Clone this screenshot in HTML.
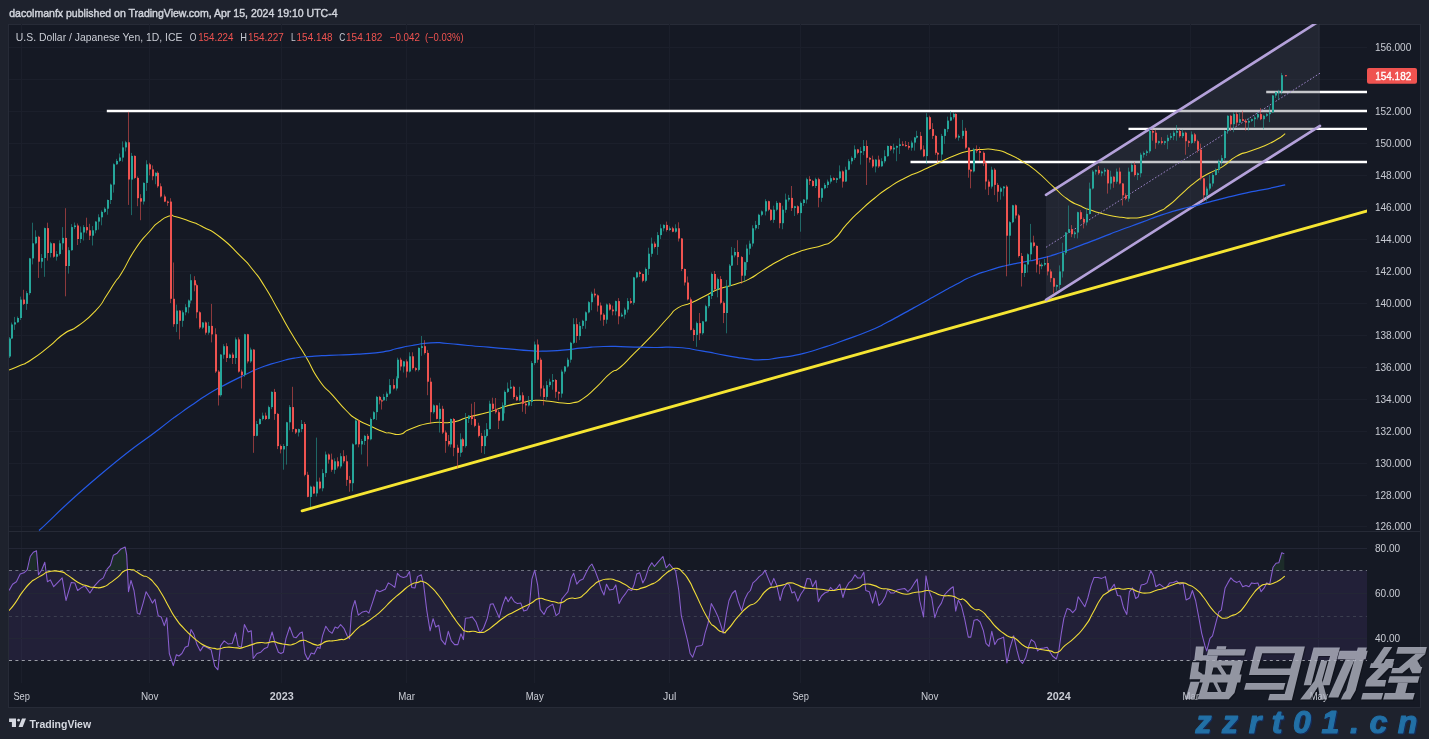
<!DOCTYPE html>
<html><head><meta charset="utf-8"><title>USDJPY</title>
<style>
html,body{margin:0;padding:0;background:#1e222d;}
body{width:1429px;height:739px;overflow:hidden;position:relative;font-family:"Liberation Sans",sans-serif;}
#hdr{position:absolute;left:9px;top:6px;font-size:12px;font-weight:bold;color:#d1d4dc;white-space:nowrap;letter-spacing:-0.1px;}
#ftr{position:absolute;left:30px;top:715px;font-size:12.5px;font-weight:bold;color:#d1d4dc;white-space:nowrap;letter-spacing:-0.3px}
svg{position:absolute;left:0;top:0;will-change:transform;}
text{font-family:"Liberation Sans",sans-serif;}
.ax{font-size:11.5px;fill:#c9ccd4;}
.tl{font-size:11.5px;fill:#c9ccd4;text-anchor:middle;}
</style></head><body>

<svg width="1429" height="739" viewBox="0 0 1429 739">
<defs><clipPath id="cm"><rect x="9" y="24" width="1358" height="507"/></clipPath><clipPath id="cr"><rect x="9" y="531" width="1358" height="152"/></clipPath></defs>
<rect x="8.5" y="24.5" width="1412" height="683" fill="#151924" stroke="#272b37" stroke-width="1"/>
<line x1="21.5" y1="24" x2="21.5" y2="683" stroke="#1b1f2b"/>
<line x1="149.5" y1="24" x2="149.5" y2="683" stroke="#1b1f2b"/>
<line x1="281.5" y1="24" x2="281.5" y2="683" stroke="#1b1f2b"/>
<line x1="406.5" y1="24" x2="406.5" y2="683" stroke="#1b1f2b"/>
<line x1="534.5" y1="24" x2="534.5" y2="683" stroke="#1b1f2b"/>
<line x1="669.5" y1="24" x2="669.5" y2="683" stroke="#1b1f2b"/>
<line x1="800.5" y1="24" x2="800.5" y2="683" stroke="#1b1f2b"/>
<line x1="929.5" y1="24" x2="929.5" y2="683" stroke="#1b1f2b"/>
<line x1="1058.5" y1="24" x2="1058.5" y2="683" stroke="#1b1f2b"/>
<line x1="1190.5" y1="24" x2="1190.5" y2="683" stroke="#1b1f2b"/>
<line x1="1318.5" y1="24" x2="1318.5" y2="683" stroke="#1b1f2b"/>
<line x1="9" y1="526.5" x2="1367" y2="526.5" stroke="#1b1f2b"/>
<line x1="9" y1="495.5" x2="1367" y2="495.5" stroke="#1b1f2b"/>
<line x1="9" y1="463.5" x2="1367" y2="463.5" stroke="#1b1f2b"/>
<line x1="9" y1="431.5" x2="1367" y2="431.5" stroke="#1b1f2b"/>
<line x1="9" y1="399.5" x2="1367" y2="399.5" stroke="#1b1f2b"/>
<line x1="9" y1="367.5" x2="1367" y2="367.5" stroke="#1b1f2b"/>
<line x1="9" y1="335.5" x2="1367" y2="335.5" stroke="#1b1f2b"/>
<line x1="9" y1="303.5" x2="1367" y2="303.5" stroke="#1b1f2b"/>
<line x1="9" y1="271.5" x2="1367" y2="271.5" stroke="#1b1f2b"/>
<line x1="9" y1="239.5" x2="1367" y2="239.5" stroke="#1b1f2b"/>
<line x1="9" y1="207.5" x2="1367" y2="207.5" stroke="#1b1f2b"/>
<line x1="9" y1="175.5" x2="1367" y2="175.5" stroke="#1b1f2b"/>
<line x1="9" y1="143.5" x2="1367" y2="143.5" stroke="#1b1f2b"/>
<line x1="9" y1="111.5" x2="1367" y2="111.5" stroke="#1b1f2b"/>
<line x1="9" y1="79.5" x2="1367" y2="79.5" stroke="#1b1f2b"/>
<line x1="9" y1="47.5" x2="1367" y2="47.5" stroke="#1b1f2b"/>
<line x1="9" y1="531.5" x2="1420" y2="531.5" stroke="#262a36"/>
<rect x="9" y="570.5" width="1358" height="90" fill="#7e57c2" fill-opacity="0.13"/>
<line x1="9" y1="548.5" x2="1367" y2="548.5" stroke="#232635"/>
<line x1="9" y1="593.5" x2="1367" y2="593.5" stroke="#232635"/>
<line x1="9" y1="638.5" x2="1367" y2="638.5" stroke="#232635"/>
<line x1="9" y1="570.5" x2="1367" y2="570.5" stroke="#6f7280" stroke-dasharray="3 3.4"/>
<line x1="9" y1="616.5" x2="1367" y2="616.5" stroke="#3c3f50" stroke-dasharray="3 3.4"/>
<line x1="9" y1="660.5" x2="1367" y2="660.5" stroke="#9a9da6" stroke-dasharray="3 3.4"/>
<g clip-path="url(#cm)">
<line x1="106.8" y1="111.0" x2="1367.4" y2="111.0" stroke="#ffffff" stroke-width="2.3"/>
<line x1="1128.5" y1="128.9" x2="1367.4" y2="128.9" stroke="#ffffff" stroke-width="2.3"/>
<line x1="910.5" y1="162.0" x2="1367.4" y2="162.0" stroke="#ffffff" stroke-width="2.3"/>
<line x1="1266.2" y1="92.0" x2="1367.4" y2="92.0" stroke="#ffffff" stroke-width="2.3"/>
<line x1="302.1" y1="510.8" x2="1372" y2="209.6" stroke="#f6e532" stroke-width="2.9" stroke-linecap="round"/>
<polygon points="1046,194.8 1320,20.6 1320,125.9 1046,299.9" fill="#424652" fill-opacity="0.30"/>
<line x1="1046" y1="247.3" x2="1320" y2="73.2" stroke="#a98fd8" stroke-width="1" stroke-dasharray="1.6 1.8" opacity="0.9"/>
<line x1="1046" y1="194.8" x2="1320" y2="20.6" stroke="#b4a1da" stroke-width="2.6" stroke-linecap="round"/>
<line x1="1046" y1="299.9" x2="1320" y2="125.9" stroke="#b4a1da" stroke-width="2.6" stroke-linecap="round"/>
<path d="M9.0 370.0 C12.7 368.5 12.7 368.8 20.0 365.5 C27.3 362.2 21.6 366.1 31.0 360.0 C40.4 353.9 37.5 355.8 48.3 347.2 C59.1 338.6 53.3 341.4 63.4 334.2 C73.5 327.0 67.8 333.4 78.6 325.5 C89.4 317.6 86.5 320.5 95.9 310.4 C105.3 300.3 100.3 304.6 106.7 295.2 C113.1 285.8 109.9 289.8 115.0 282.3 C120.1 274.8 115.1 283.7 121.9 272.6 C128.7 261.5 126.4 262.5 135.4 249.0 C144.4 235.5 141.1 241.0 149.0 232.0 C156.9 223.0 152.2 227.2 159.0 221.9 C165.8 216.6 163.6 217.8 169.3 216.1 C175.0 214.4 169.2 215.1 176.0 216.8 C182.8 218.5 180.6 217.8 189.6 221.2 C198.6 224.6 192.9 221.7 203.0 227.0 C213.1 232.3 207.7 227.4 220.0 237.0 C232.3 246.6 229.0 244.7 240.0 255.7 C251.0 266.7 244.7 259.6 253.0 270.0 C261.3 280.4 256.5 273.5 265.0 287.0 C273.5 300.5 269.5 294.8 278.5 310.6 C287.5 326.4 283.0 319.1 292.0 334.3 C301.0 349.5 296.6 341.1 305.6 356.3 C314.6 371.5 310.0 367.0 319.0 380.0 C328.0 393.0 323.6 385.1 332.7 395.3 C341.8 405.5 338.3 402.6 346.2 410.5 C354.1 418.4 348.5 413.9 356.4 419.0 C364.3 424.1 360.9 421.4 369.9 425.7 C378.9 430.0 376.7 429.4 383.4 431.8 C390.1 434.2 384.4 432.2 390.0 433.0 C395.6 433.8 393.5 435.5 400.3 434.2 C407.1 432.9 400.3 432.7 410.5 429.0 C420.7 425.3 417.3 425.2 430.8 423.0 C444.3 420.8 438.6 424.2 451.0 422.3 C463.4 420.4 455.6 420.7 468.0 417.3 C480.4 413.9 475.9 415.8 488.3 412.2 C500.7 408.6 494.0 409.6 505.3 406.4 C516.6 403.2 512.1 404.7 522.2 402.7 C532.3 400.7 526.7 400.8 535.7 400.3 C544.7 399.8 540.3 400.4 549.3 401.3 C558.3 402.2 554.9 402.5 562.8 403.0 C570.7 403.5 566.3 404.2 573.0 402.7 C579.7 401.2 575.1 403.9 583.0 398.6 C590.9 393.3 587.6 395.2 596.7 386.8 C605.8 378.4 602.4 379.7 610.2 373.3 C618.0 366.9 612.1 374.1 620.0 367.5 C627.9 360.9 623.6 363.9 633.9 353.6 C644.2 343.3 639.5 348.6 650.8 336.7 C662.1 324.8 658.7 327.6 667.7 318.0 C676.7 308.4 670.0 313.0 677.9 307.9 C685.8 302.8 682.4 306.8 691.4 302.8 C700.4 298.8 696.0 300.5 705.0 296.0 C714.0 291.5 708.4 293.2 718.5 289.3 C728.6 285.4 725.2 287.6 735.4 284.2 C745.6 280.8 740.0 283.6 749.0 279.1 C758.0 274.6 752.4 276.8 762.5 270.6 C772.6 264.4 768.1 266.5 779.4 260.5 C790.7 254.5 786.1 256.7 796.3 252.7 C806.5 248.7 801.3 251.0 809.9 248.6 C818.5 246.2 814.0 248.5 822.0 245.4 C830.0 242.3 825.7 246.5 834.0 239.3 C842.3 232.1 838.1 233.6 847.0 223.9 C855.9 214.2 851.5 218.8 860.6 210.3 C869.7 201.8 865.2 205.8 874.2 198.5 C883.2 191.2 877.6 195.1 887.7 188.3 C897.8 181.5 893.3 184.1 904.6 178.2 C915.9 172.3 910.3 175.8 921.6 170.7 C932.9 165.6 927.2 168.1 938.5 162.9 C949.8 157.7 945.2 159.1 955.4 155.2 C965.6 151.3 960.0 153.0 969.0 151.1 C978.0 149.2 973.5 149.8 982.5 149.4 C991.5 149.0 987.0 148.3 996.0 150.0 C1005.0 151.7 1000.6 150.5 1009.6 154.5 C1018.6 158.5 1014.1 156.3 1023.1 161.9 C1032.1 167.5 1026.6 163.1 1036.7 171.4 C1046.8 179.7 1043.4 177.8 1053.5 186.9 C1063.6 196.0 1058.0 192.3 1067.0 198.7 C1076.0 205.1 1071.6 201.9 1080.6 206.1 C1089.6 210.3 1085.1 208.3 1094.1 211.2 C1103.1 214.1 1098.7 212.9 1107.7 214.9 C1116.7 216.9 1112.8 216.3 1121.2 217.3 C1129.6 218.3 1125.1 218.3 1133.0 218.0 C1140.9 217.7 1136.4 218.4 1144.9 216.3 C1153.4 214.2 1150.5 215.2 1158.4 211.6 C1166.3 208.0 1160.7 211.5 1168.6 205.5 C1176.5 199.5 1173.0 201.5 1182.0 193.6 C1191.0 185.7 1186.6 188.6 1195.6 181.8 C1204.6 175.0 1200.1 178.4 1209.1 173.3 C1218.1 168.2 1213.7 172.2 1222.7 166.6 C1231.7 161.0 1227.2 161.5 1236.2 156.4 C1245.2 151.3 1240.7 154.7 1249.7 151.3 C1258.7 147.9 1254.3 150.2 1263.3 146.3 C1272.3 142.4 1269.5 143.7 1276.8 139.5 C1284.1 135.3 1282.4 135.6 1285.2 133.6" fill="none" stroke="#f0dc38" stroke-width="1.05" stroke-linejoin="round"/>
<path d="M39.0 530.5 C59.3 512.0 59.7 509.0 100.0 475.0 C140.3 441.0 134.3 448.2 160.0 428.4 C185.7 408.6 165.7 423.8 177.0 415.6 C188.3 407.4 182.6 411.4 193.9 403.7 C205.2 396.0 199.5 399.3 210.8 392.5 C222.1 385.7 216.4 389.2 227.7 383.4 C239.0 377.6 233.3 380.4 244.6 375.0 C255.9 369.6 250.3 371.5 261.6 367.2 C272.9 362.9 267.2 365.1 278.5 362.0 C289.8 358.9 284.1 359.9 295.4 358.0 C306.7 356.1 301.0 357.2 312.3 356.3 C323.6 355.4 316.9 355.9 329.3 355.3 C341.7 354.7 336.1 355.3 349.6 354.6 C363.1 353.9 357.5 354.4 369.9 353.3 C382.3 352.2 377.8 352.8 386.8 351.2 C395.8 349.6 388.0 350.5 397.0 348.5 C406.0 346.5 402.6 347.1 413.9 345.2 C425.2 343.3 419.5 343.4 430.8 342.8 C442.1 342.2 435.3 342.6 447.7 343.5 C460.1 344.4 454.5 344.3 468.0 345.5 C481.5 346.7 474.8 346.1 488.3 347.2 C501.8 348.3 495.0 347.8 508.6 348.9 C522.2 350.0 517.7 349.8 529.0 350.6 C540.3 351.4 531.2 351.3 542.5 351.2 C553.8 351.1 549.3 351.3 562.8 350.2 C576.3 349.1 569.5 349.1 583.0 347.9 C596.5 346.7 588.7 346.9 603.4 346.5 C618.1 346.1 610.1 346.5 627.0 346.8 C643.9 347.1 637.2 347.3 654.2 347.5 C671.2 347.7 662.1 346.4 677.9 347.5 C693.7 348.6 685.8 348.3 701.6 350.9 C717.4 353.5 710.6 352.7 725.3 355.3 C740.0 357.9 733.2 357.2 745.6 358.7 C758.0 360.2 751.2 360.1 762.5 359.7 C773.8 359.3 767.0 359.4 779.4 357.6 C791.8 355.8 786.2 357.3 799.7 354.3 C813.2 351.3 806.6 352.7 820.0 348.5 C833.4 344.3 823.1 347.8 840.0 341.7 C856.9 335.6 854.9 336.8 870.8 330.2 C886.7 323.6 876.4 327.8 887.7 322.0 C899.0 316.2 893.3 319.1 904.6 312.9 C915.9 306.7 910.3 309.7 921.6 303.4 C932.9 297.1 927.2 300.2 938.5 294.0 C949.8 287.8 944.1 290.7 955.4 284.8 C966.7 278.9 961.0 281.1 972.3 276.3 C983.6 271.5 978.0 273.9 989.3 270.3 C1000.6 266.7 994.9 268.2 1006.2 265.5 C1017.5 262.8 1011.8 264.4 1023.1 262.1 C1034.4 259.8 1027.6 261.7 1040.0 258.6 C1052.4 255.5 1046.8 257.2 1060.3 252.8 C1073.8 248.4 1067.1 250.5 1080.6 245.4 C1094.1 240.3 1087.4 242.8 1100.9 237.6 C1114.4 232.4 1107.7 234.9 1121.2 229.8 C1134.7 224.7 1128.0 227.4 1141.5 222.4 C1155.0 217.4 1148.3 219.4 1161.8 214.9 C1175.3 210.4 1169.6 212.3 1182.0 208.9 C1194.4 205.5 1186.6 208.0 1199.0 204.8 C1211.4 201.6 1204.6 203.1 1219.3 199.4 C1234.0 195.7 1228.3 196.9 1243.0 193.6 C1257.7 190.3 1249.2 192.5 1263.3 189.6 C1277.4 186.7 1277.9 186.4 1285.2 184.8" fill="none" stroke="#2459e6" stroke-width="1.2" stroke-linejoin="round"/>
<rect x="9" y="337.0" width="1" height="21.0" fill="#26a69a" fill-opacity="0.55"/>
<rect x="9" y="338.5" width="2" height="18.0" fill="#26a69a"/>
<rect x="11" y="322.5" width="1" height="16.5" fill="#26a69a" fill-opacity="0.55"/>
<rect x="11" y="324.5" width="2" height="14.0" fill="#26a69a"/>
<rect x="14" y="316.9" width="1" height="13.0" fill="#26a69a" fill-opacity="0.55"/>
<rect x="14" y="322.3" width="2" height="2.2" fill="#26a69a"/>
<rect x="17" y="316.5" width="1" height="6.3" fill="#26a69a" fill-opacity="0.55"/>
<rect x="17" y="318.0" width="2" height="4.3" fill="#26a69a"/>
<rect x="20" y="296.6" width="1" height="23.4" fill="#26a69a" fill-opacity="0.55"/>
<rect x="20" y="299.6" width="2" height="18.4" fill="#26a69a"/>
<rect x="23" y="289.8" width="1" height="15.2" fill="#ef5350" fill-opacity="0.55"/>
<rect x="23" y="299.6" width="2" height="4.3" fill="#ef5350"/>
<rect x="26" y="291.1" width="1" height="18.8" fill="#26a69a" fill-opacity="0.55"/>
<rect x="26" y="293.1" width="2" height="10.8" fill="#26a69a"/>
<rect x="29" y="257.9" width="1" height="37.2" fill="#26a69a" fill-opacity="0.55"/>
<rect x="29" y="258.4" width="2" height="34.7" fill="#26a69a"/>
<rect x="32" y="222.7" width="1" height="41.7" fill="#26a69a" fill-opacity="0.55"/>
<rect x="32" y="243.3" width="2" height="15.1" fill="#26a69a"/>
<rect x="35" y="230.3" width="1" height="14.0" fill="#26a69a" fill-opacity="0.55"/>
<rect x="35" y="236.8" width="2" height="6.5" fill="#26a69a"/>
<rect x="38" y="235.8" width="1" height="42.1" fill="#ef5350" fill-opacity="0.55"/>
<rect x="38" y="236.8" width="2" height="24.9" fill="#ef5350"/>
<rect x="41" y="254.1" width="1" height="14.1" fill="#26a69a" fill-opacity="0.55"/>
<rect x="41" y="258.0" width="2" height="3.7" fill="#26a69a"/>
<rect x="44" y="227.6" width="1" height="49.2" fill="#26a69a" fill-opacity="0.55"/>
<rect x="44" y="228.1" width="2" height="29.9" fill="#26a69a"/>
<rect x="47" y="222.7" width="1" height="37.9" fill="#ef5350" fill-opacity="0.55"/>
<rect x="47" y="228.1" width="2" height="24.9" fill="#ef5350"/>
<rect x="50" y="241.8" width="1" height="15.6" fill="#26a69a" fill-opacity="0.55"/>
<rect x="50" y="243.3" width="2" height="9.7" fill="#26a69a"/>
<rect x="53" y="243.3" width="1" height="14.4" fill="#ef5350" fill-opacity="0.55"/>
<rect x="53" y="243.3" width="2" height="13.4" fill="#ef5350"/>
<rect x="56" y="251.1" width="1" height="9.5" fill="#26a69a" fill-opacity="0.55"/>
<rect x="56" y="254.1" width="2" height="2.6" fill="#26a69a"/>
<rect x="59" y="240.3" width="1" height="15.3" fill="#26a69a" fill-opacity="0.55"/>
<rect x="59" y="243.3" width="2" height="10.8" fill="#26a69a"/>
<rect x="62" y="227.1" width="1" height="22.7" fill="#26a69a" fill-opacity="0.55"/>
<rect x="62" y="237.9" width="2" height="5.4" fill="#26a69a"/>
<rect x="65" y="208.2" width="1" height="88.1" fill="#ef5350" fill-opacity="0.55"/>
<rect x="65" y="237.9" width="2" height="28.1" fill="#ef5350"/>
<rect x="68" y="247.2" width="1" height="26.4" fill="#26a69a" fill-opacity="0.55"/>
<rect x="68" y="250.2" width="2" height="15.8" fill="#26a69a"/>
<rect x="71" y="224.1" width="1" height="26.6" fill="#26a69a" fill-opacity="0.55"/>
<rect x="71" y="227.1" width="2" height="23.1" fill="#26a69a"/>
<rect x="74" y="222.5" width="1" height="6.6" fill="#26a69a" fill-opacity="0.55"/>
<rect x="74" y="225.5" width="2" height="1.6" fill="#26a69a"/>
<rect x="77" y="223.5" width="1" height="21.5" fill="#ef5350" fill-opacity="0.55"/>
<rect x="77" y="225.5" width="2" height="13.5" fill="#ef5350"/>
<rect x="80" y="226.5" width="1" height="16.5" fill="#26a69a" fill-opacity="0.55"/>
<rect x="80" y="232.5" width="2" height="6.5" fill="#26a69a"/>
<rect x="83" y="225.1" width="1" height="15.4" fill="#26a69a" fill-opacity="0.55"/>
<rect x="83" y="227.1" width="2" height="5.4" fill="#26a69a"/>
<rect x="86" y="217.7" width="1" height="15.6" fill="#ef5350" fill-opacity="0.55"/>
<rect x="86" y="227.1" width="2" height="3.2" fill="#ef5350"/>
<rect x="89" y="223.8" width="1" height="16.2" fill="#ef5350" fill-opacity="0.55"/>
<rect x="89" y="230.3" width="2" height="5.4" fill="#ef5350"/>
<rect x="92" y="226.0" width="1" height="19.5" fill="#26a69a" fill-opacity="0.55"/>
<rect x="92" y="230.3" width="2" height="5.4" fill="#26a69a"/>
<rect x="95" y="221.1" width="1" height="12.2" fill="#26a69a" fill-opacity="0.55"/>
<rect x="95" y="221.6" width="2" height="8.7" fill="#26a69a"/>
<rect x="98" y="214.3" width="1" height="15.3" fill="#26a69a" fill-opacity="0.55"/>
<rect x="98" y="217.3" width="2" height="4.3" fill="#26a69a"/>
<rect x="101" y="210.4" width="1" height="14.9" fill="#26a69a" fill-opacity="0.55"/>
<rect x="101" y="211.9" width="2" height="5.4" fill="#26a69a"/>
<rect x="104" y="207.2" width="1" height="5.7" fill="#26a69a" fill-opacity="0.55"/>
<rect x="104" y="208.7" width="2" height="3.2" fill="#26a69a"/>
<rect x="107" y="199.5" width="1" height="15.2" fill="#26a69a" fill-opacity="0.55"/>
<rect x="107" y="200.0" width="2" height="8.7" fill="#26a69a"/>
<rect x="110" y="183.6" width="1" height="20.4" fill="#26a69a" fill-opacity="0.55"/>
<rect x="110" y="184.6" width="2" height="15.4" fill="#26a69a"/>
<rect x="113" y="163.3" width="1" height="29.3" fill="#26a69a" fill-opacity="0.55"/>
<rect x="113" y="164.3" width="2" height="20.3" fill="#26a69a"/>
<rect x="116" y="158.9" width="1" height="5.9" fill="#26a69a" fill-opacity="0.55"/>
<rect x="116" y="160.9" width="2" height="3.4" fill="#26a69a"/>
<rect x="119" y="153.5" width="1" height="8.4" fill="#26a69a" fill-opacity="0.55"/>
<rect x="119" y="157.5" width="2" height="3.4" fill="#26a69a"/>
<rect x="122" y="141.4" width="1" height="20.2" fill="#26a69a" fill-opacity="0.55"/>
<rect x="122" y="147.4" width="2" height="10.2" fill="#26a69a"/>
<rect x="125" y="140.8" width="1" height="10.6" fill="#26a69a" fill-opacity="0.55"/>
<rect x="125" y="142.3" width="2" height="5.1" fill="#26a69a"/>
<rect x="128" y="111.8" width="1" height="93.1" fill="#ef5350" fill-opacity="0.55"/>
<rect x="128" y="142.3" width="2" height="37.2" fill="#ef5350"/>
<rect x="131" y="152.9" width="1" height="62.2" fill="#26a69a" fill-opacity="0.55"/>
<rect x="131" y="155.9" width="2" height="23.7" fill="#26a69a"/>
<rect x="134" y="155.4" width="1" height="23.5" fill="#ef5350" fill-opacity="0.55"/>
<rect x="134" y="155.9" width="2" height="22.0" fill="#ef5350"/>
<rect x="137" y="176.4" width="1" height="29.8" fill="#ef5350" fill-opacity="0.55"/>
<rect x="137" y="177.9" width="2" height="20.3" fill="#ef5350"/>
<rect x="140" y="194.2" width="1" height="26.0" fill="#ef5350" fill-opacity="0.55"/>
<rect x="140" y="198.2" width="2" height="3.4" fill="#ef5350"/>
<rect x="143" y="182.4" width="1" height="22.1" fill="#26a69a" fill-opacity="0.55"/>
<rect x="143" y="182.9" width="2" height="18.6" fill="#26a69a"/>
<rect x="146" y="160.3" width="1" height="30.6" fill="#26a69a" fill-opacity="0.55"/>
<rect x="146" y="164.3" width="2" height="18.6" fill="#26a69a"/>
<rect x="149" y="162.8" width="1" height="12.6" fill="#ef5350" fill-opacity="0.55"/>
<rect x="149" y="164.3" width="2" height="5.1" fill="#ef5350"/>
<rect x="152" y="165.4" width="1" height="14.8" fill="#ef5350" fill-opacity="0.55"/>
<rect x="152" y="169.4" width="2" height="6.8" fill="#ef5350"/>
<rect x="155" y="172.3" width="1" height="11.9" fill="#26a69a" fill-opacity="0.55"/>
<rect x="155" y="172.8" width="2" height="3.4" fill="#26a69a"/>
<rect x="157" y="171.3" width="1" height="16.5" fill="#ef5350" fill-opacity="0.55"/>
<rect x="157" y="172.8" width="2" height="13.5" fill="#ef5350"/>
<rect x="160" y="183.3" width="1" height="14.2" fill="#ef5350" fill-opacity="0.55"/>
<rect x="160" y="186.3" width="2" height="10.2" fill="#ef5350"/>
<rect x="164" y="194.5" width="1" height="7.6" fill="#ef5350" fill-opacity="0.55"/>
<rect x="164" y="196.5" width="2" height="5.1" fill="#ef5350"/>
<rect x="167" y="200.6" width="1" height="5.2" fill="#ef5350" fill-opacity="0.55"/>
<rect x="167" y="201.6" width="2" height="1.2" fill="#ef5350"/>
<rect x="170" y="198.2" width="1" height="104.9" fill="#ef5350" fill-opacity="0.55"/>
<rect x="170" y="201.6" width="2" height="97.2" fill="#ef5350"/>
<rect x="173" y="262.5" width="1" height="64.3" fill="#ef5350" fill-opacity="0.55"/>
<rect x="173" y="298.8" width="2" height="25.4" fill="#ef5350"/>
<rect x="176" y="304.6" width="1" height="27.5" fill="#26a69a" fill-opacity="0.55"/>
<rect x="176" y="310.6" width="2" height="13.5" fill="#26a69a"/>
<rect x="179" y="310.1" width="1" height="29.3" fill="#ef5350" fill-opacity="0.55"/>
<rect x="179" y="310.6" width="2" height="10.2" fill="#ef5350"/>
<rect x="182" y="310.3" width="1" height="16.5" fill="#26a69a" fill-opacity="0.55"/>
<rect x="182" y="312.3" width="2" height="8.5" fill="#26a69a"/>
<rect x="185" y="304.2" width="1" height="11.1" fill="#26a69a" fill-opacity="0.55"/>
<rect x="185" y="307.2" width="2" height="5.1" fill="#26a69a"/>
<rect x="188" y="299.5" width="1" height="13.8" fill="#26a69a" fill-opacity="0.55"/>
<rect x="188" y="300.5" width="2" height="6.8" fill="#26a69a"/>
<rect x="190" y="274.2" width="1" height="29.3" fill="#26a69a" fill-opacity="0.55"/>
<rect x="190" y="280.2" width="2" height="20.3" fill="#26a69a"/>
<rect x="194" y="276.2" width="1" height="15.1" fill="#ef5350" fill-opacity="0.55"/>
<rect x="194" y="280.2" width="2" height="5.1" fill="#ef5350"/>
<rect x="196" y="283.7" width="1" height="34.6" fill="#ef5350" fill-opacity="0.55"/>
<rect x="196" y="285.2" width="2" height="27.1" fill="#ef5350"/>
<rect x="199" y="311.3" width="1" height="17.7" fill="#ef5350" fill-opacity="0.55"/>
<rect x="199" y="312.3" width="2" height="15.2" fill="#ef5350"/>
<rect x="202" y="322.0" width="1" height="7.1" fill="#26a69a" fill-opacity="0.55"/>
<rect x="202" y="322.5" width="2" height="5.1" fill="#26a69a"/>
<rect x="205" y="321.5" width="1" height="13.2" fill="#ef5350" fill-opacity="0.55"/>
<rect x="205" y="322.5" width="2" height="10.2" fill="#ef5350"/>
<rect x="208" y="321.9" width="1" height="12.8" fill="#26a69a" fill-opacity="0.55"/>
<rect x="208" y="325.9" width="2" height="6.8" fill="#26a69a"/>
<rect x="211" y="303.9" width="1" height="38.5" fill="#ef5350" fill-opacity="0.55"/>
<rect x="211" y="325.9" width="2" height="8.5" fill="#ef5350"/>
<rect x="215" y="328.3" width="1" height="44.7" fill="#ef5350" fill-opacity="0.55"/>
<rect x="215" y="334.3" width="2" height="37.2" fill="#ef5350"/>
<rect x="218" y="370.1" width="1" height="35.4" fill="#ef5350" fill-opacity="0.55"/>
<rect x="218" y="371.6" width="2" height="23.7" fill="#ef5350"/>
<rect x="220" y="354.1" width="1" height="42.6" fill="#26a69a" fill-opacity="0.55"/>
<rect x="220" y="354.6" width="2" height="40.6" fill="#26a69a"/>
<rect x="223" y="344.2" width="1" height="14.5" fill="#26a69a" fill-opacity="0.55"/>
<rect x="223" y="346.2" width="2" height="8.5" fill="#26a69a"/>
<rect x="226" y="343.2" width="1" height="18.8" fill="#ef5350" fill-opacity="0.55"/>
<rect x="226" y="346.2" width="2" height="11.8" fill="#ef5350"/>
<rect x="229" y="353.6" width="1" height="4.9" fill="#26a69a" fill-opacity="0.55"/>
<rect x="229" y="354.6" width="2" height="3.4" fill="#26a69a"/>
<rect x="232" y="352.6" width="1" height="11.4" fill="#ef5350" fill-opacity="0.55"/>
<rect x="232" y="354.6" width="2" height="3.4" fill="#ef5350"/>
<rect x="235" y="337.4" width="1" height="26.6" fill="#26a69a" fill-opacity="0.55"/>
<rect x="235" y="339.4" width="2" height="18.6" fill="#26a69a"/>
<rect x="238" y="337.4" width="1" height="35.2" fill="#ef5350" fill-opacity="0.55"/>
<rect x="238" y="339.4" width="2" height="32.2" fill="#ef5350"/>
<rect x="241" y="369.6" width="1" height="18.9" fill="#ef5350" fill-opacity="0.55"/>
<rect x="241" y="371.6" width="2" height="3.4" fill="#ef5350"/>
<rect x="244" y="333.8" width="1" height="43.1" fill="#26a69a" fill-opacity="0.55"/>
<rect x="244" y="334.3" width="2" height="40.6" fill="#26a69a"/>
<rect x="247" y="333.8" width="1" height="29.6" fill="#ef5350" fill-opacity="0.55"/>
<rect x="247" y="334.3" width="2" height="27.1" fill="#ef5350"/>
<rect x="250" y="347.6" width="1" height="15.3" fill="#26a69a" fill-opacity="0.55"/>
<rect x="250" y="349.6" width="2" height="11.8" fill="#26a69a"/>
<rect x="253" y="349.1" width="1" height="103.7" fill="#ef5350" fill-opacity="0.55"/>
<rect x="253" y="349.6" width="2" height="86.3" fill="#ef5350"/>
<rect x="256" y="421.0" width="1" height="15.3" fill="#26a69a" fill-opacity="0.55"/>
<rect x="256" y="424.0" width="2" height="11.8" fill="#26a69a"/>
<rect x="259" y="418.5" width="1" height="6.1" fill="#26a69a" fill-opacity="0.55"/>
<rect x="259" y="419.0" width="2" height="5.1" fill="#26a69a"/>
<rect x="262" y="412.6" width="1" height="7.9" fill="#26a69a" fill-opacity="0.55"/>
<rect x="262" y="415.6" width="2" height="3.4" fill="#26a69a"/>
<rect x="265" y="412.6" width="1" height="7.4" fill="#ef5350" fill-opacity="0.55"/>
<rect x="265" y="415.6" width="2" height="3.4" fill="#ef5350"/>
<rect x="268" y="405.6" width="1" height="13.8" fill="#26a69a" fill-opacity="0.55"/>
<rect x="268" y="407.1" width="2" height="11.8" fill="#26a69a"/>
<rect x="271" y="391.4" width="1" height="17.7" fill="#26a69a" fill-opacity="0.55"/>
<rect x="271" y="391.9" width="2" height="15.2" fill="#26a69a"/>
<rect x="274" y="388.9" width="1" height="31.0" fill="#ef5350" fill-opacity="0.55"/>
<rect x="274" y="391.9" width="2" height="22.0" fill="#ef5350"/>
<rect x="277" y="412.9" width="1" height="36.2" fill="#ef5350" fill-opacity="0.55"/>
<rect x="277" y="413.9" width="2" height="32.2" fill="#ef5350"/>
<rect x="280" y="444.5" width="1" height="8.9" fill="#ef5350" fill-opacity="0.55"/>
<rect x="280" y="446.0" width="2" height="3.4" fill="#ef5350"/>
<rect x="283" y="444.0" width="1" height="25.7" fill="#26a69a" fill-opacity="0.55"/>
<rect x="283" y="446.0" width="2" height="3.4" fill="#26a69a"/>
<rect x="286" y="421.8" width="1" height="42.8" fill="#26a69a" fill-opacity="0.55"/>
<rect x="286" y="422.3" width="2" height="23.7" fill="#26a69a"/>
<rect x="289" y="405.1" width="1" height="25.2" fill="#26a69a" fill-opacity="0.55"/>
<rect x="289" y="407.1" width="2" height="15.2" fill="#26a69a"/>
<rect x="292" y="386.8" width="1" height="45.3" fill="#ef5350" fill-opacity="0.55"/>
<rect x="292" y="407.1" width="2" height="22.0" fill="#ef5350"/>
<rect x="295" y="428.6" width="1" height="5.4" fill="#ef5350" fill-opacity="0.55"/>
<rect x="295" y="429.1" width="2" height="3.4" fill="#ef5350"/>
<rect x="298" y="428.6" width="1" height="7.9" fill="#26a69a" fill-opacity="0.55"/>
<rect x="298" y="429.1" width="2" height="3.4" fill="#26a69a"/>
<rect x="301" y="420.0" width="1" height="12.1" fill="#26a69a" fill-opacity="0.55"/>
<rect x="301" y="424.0" width="2" height="5.1" fill="#26a69a"/>
<rect x="304" y="422.0" width="1" height="54.3" fill="#ef5350" fill-opacity="0.55"/>
<rect x="304" y="424.0" width="2" height="50.8" fill="#ef5350"/>
<rect x="307" y="471.8" width="1" height="25.5" fill="#ef5350" fill-opacity="0.55"/>
<rect x="307" y="474.8" width="2" height="22.0" fill="#ef5350"/>
<rect x="310" y="485.7" width="1" height="21.3" fill="#26a69a" fill-opacity="0.55"/>
<rect x="310" y="486.7" width="2" height="10.2" fill="#26a69a"/>
<rect x="313" y="485.7" width="1" height="8.3" fill="#ef5350" fill-opacity="0.55"/>
<rect x="313" y="486.7" width="2" height="6.8" fill="#ef5350"/>
<rect x="316" y="437.6" width="1" height="58.9" fill="#26a69a" fill-opacity="0.55"/>
<rect x="316" y="481.6" width="2" height="11.8" fill="#26a69a"/>
<rect x="319" y="477.6" width="1" height="11.8" fill="#ef5350" fill-opacity="0.55"/>
<rect x="319" y="481.6" width="2" height="6.8" fill="#ef5350"/>
<rect x="322" y="469.1" width="1" height="22.2" fill="#26a69a" fill-opacity="0.55"/>
<rect x="322" y="473.1" width="2" height="15.2" fill="#26a69a"/>
<rect x="325" y="451.5" width="1" height="25.6" fill="#26a69a" fill-opacity="0.55"/>
<rect x="325" y="454.5" width="2" height="18.6" fill="#26a69a"/>
<rect x="328" y="453.5" width="1" height="10.1" fill="#ef5350" fill-opacity="0.55"/>
<rect x="328" y="454.5" width="2" height="5.1" fill="#ef5350"/>
<rect x="331" y="453.6" width="1" height="18.2" fill="#ef5350" fill-opacity="0.55"/>
<rect x="331" y="459.6" width="2" height="10.2" fill="#ef5350"/>
<rect x="334" y="458.3" width="1" height="15.5" fill="#26a69a" fill-opacity="0.55"/>
<rect x="334" y="461.3" width="2" height="8.5" fill="#26a69a"/>
<rect x="337" y="457.3" width="1" height="11.1" fill="#ef5350" fill-opacity="0.55"/>
<rect x="337" y="461.3" width="2" height="5.1" fill="#ef5350"/>
<rect x="340" y="453.2" width="1" height="15.2" fill="#26a69a" fill-opacity="0.55"/>
<rect x="340" y="456.2" width="2" height="10.2" fill="#26a69a"/>
<rect x="343" y="450.2" width="1" height="13.1" fill="#ef5350" fill-opacity="0.55"/>
<rect x="343" y="456.2" width="2" height="5.1" fill="#ef5350"/>
<rect x="346" y="455.3" width="1" height="30.6" fill="#ef5350" fill-opacity="0.55"/>
<rect x="346" y="461.3" width="2" height="18.6" fill="#ef5350"/>
<rect x="349" y="475.9" width="1" height="15.8" fill="#ef5350" fill-opacity="0.55"/>
<rect x="349" y="479.9" width="2" height="3.4" fill="#ef5350"/>
<rect x="352" y="443.3" width="1" height="47.9" fill="#26a69a" fill-opacity="0.55"/>
<rect x="352" y="444.3" width="2" height="38.9" fill="#26a69a"/>
<rect x="355" y="419.1" width="1" height="25.7" fill="#26a69a" fill-opacity="0.55"/>
<rect x="355" y="420.6" width="2" height="23.7" fill="#26a69a"/>
<rect x="358" y="420.1" width="1" height="27.2" fill="#ef5350" fill-opacity="0.55"/>
<rect x="358" y="420.6" width="2" height="23.7" fill="#ef5350"/>
<rect x="361" y="439.0" width="1" height="15.5" fill="#26a69a" fill-opacity="0.55"/>
<rect x="361" y="441.0" width="2" height="3.4" fill="#26a69a"/>
<rect x="364" y="434.9" width="1" height="10.1" fill="#26a69a" fill-opacity="0.55"/>
<rect x="364" y="435.9" width="2" height="5.1" fill="#26a69a"/>
<rect x="367" y="433.9" width="1" height="32.5" fill="#ef5350" fill-opacity="0.55"/>
<rect x="367" y="435.9" width="2" height="3.4" fill="#ef5350"/>
<rect x="370" y="417.5" width="1" height="22.8" fill="#26a69a" fill-opacity="0.55"/>
<rect x="370" y="419.0" width="2" height="20.3" fill="#26a69a"/>
<rect x="373" y="411.2" width="1" height="8.8" fill="#26a69a" fill-opacity="0.55"/>
<rect x="373" y="412.2" width="2" height="6.8" fill="#26a69a"/>
<rect x="376" y="395.9" width="1" height="24.2" fill="#26a69a" fill-opacity="0.55"/>
<rect x="376" y="396.9" width="2" height="15.2" fill="#26a69a"/>
<rect x="379" y="395.9" width="1" height="8.4" fill="#ef5350" fill-opacity="0.55"/>
<rect x="379" y="396.9" width="2" height="3.4" fill="#ef5350"/>
<rect x="381" y="399.3" width="1" height="10.2" fill="#ef5350" fill-opacity="0.55"/>
<rect x="381" y="400.3" width="2" height="1.2" fill="#ef5350"/>
<rect x="383" y="393.9" width="1" height="6.9" fill="#26a69a" fill-opacity="0.55"/>
<rect x="383" y="396.9" width="2" height="3.4" fill="#26a69a"/>
<rect x="386" y="391.6" width="1" height="9.4" fill="#26a69a" fill-opacity="0.55"/>
<rect x="386" y="393.6" width="2" height="3.4" fill="#26a69a"/>
<rect x="389" y="379.1" width="1" height="15.5" fill="#26a69a" fill-opacity="0.55"/>
<rect x="389" y="385.1" width="2" height="8.5" fill="#26a69a"/>
<rect x="393" y="379.1" width="1" height="10.4" fill="#ef5350" fill-opacity="0.55"/>
<rect x="393" y="385.1" width="2" height="3.4" fill="#ef5350"/>
<rect x="396" y="376.3" width="1" height="14.2" fill="#26a69a" fill-opacity="0.55"/>
<rect x="396" y="378.3" width="2" height="10.2" fill="#26a69a"/>
<rect x="397" y="357.7" width="1" height="22.1" fill="#26a69a" fill-opacity="0.55"/>
<rect x="397" y="359.7" width="2" height="18.6" fill="#26a69a"/>
<rect x="400" y="357.7" width="1" height="12.8" fill="#ef5350" fill-opacity="0.55"/>
<rect x="400" y="359.7" width="2" height="6.8" fill="#ef5350"/>
<rect x="403" y="360.9" width="1" height="11.6" fill="#26a69a" fill-opacity="0.55"/>
<rect x="403" y="361.4" width="2" height="5.1" fill="#26a69a"/>
<rect x="406" y="359.4" width="1" height="18.2" fill="#ef5350" fill-opacity="0.55"/>
<rect x="406" y="361.4" width="2" height="10.2" fill="#ef5350"/>
<rect x="409" y="352.3" width="1" height="20.2" fill="#26a69a" fill-opacity="0.55"/>
<rect x="409" y="356.3" width="2" height="15.2" fill="#26a69a"/>
<rect x="412" y="352.3" width="1" height="17.3" fill="#ef5350" fill-opacity="0.55"/>
<rect x="412" y="356.3" width="2" height="11.8" fill="#ef5350"/>
<rect x="415" y="367.2" width="1" height="4.2" fill="#ef5350" fill-opacity="0.55"/>
<rect x="415" y="368.2" width="2" height="1.7" fill="#ef5350"/>
<rect x="418" y="347.4" width="1" height="24.0" fill="#26a69a" fill-opacity="0.55"/>
<rect x="418" y="347.9" width="2" height="22.0" fill="#26a69a"/>
<rect x="421" y="336.0" width="1" height="19.8" fill="#26a69a" fill-opacity="0.55"/>
<rect x="421" y="346.2" width="2" height="1.7" fill="#26a69a"/>
<rect x="424" y="340.2" width="1" height="14.3" fill="#ef5350" fill-opacity="0.55"/>
<rect x="424" y="346.2" width="2" height="6.8" fill="#ef5350"/>
<rect x="427" y="349.9" width="1" height="45.3" fill="#ef5350" fill-opacity="0.55"/>
<rect x="427" y="352.9" width="2" height="28.8" fill="#ef5350"/>
<rect x="430" y="377.7" width="1" height="46.3" fill="#ef5350" fill-opacity="0.55"/>
<rect x="430" y="381.7" width="2" height="30.5" fill="#ef5350"/>
<rect x="433" y="404.4" width="1" height="9.3" fill="#26a69a" fill-opacity="0.55"/>
<rect x="433" y="405.4" width="2" height="6.8" fill="#26a69a"/>
<rect x="436" y="404.9" width="1" height="14.5" fill="#ef5350" fill-opacity="0.55"/>
<rect x="436" y="405.4" width="2" height="13.5" fill="#ef5350"/>
<rect x="439" y="402.8" width="1" height="29.7" fill="#26a69a" fill-opacity="0.55"/>
<rect x="439" y="408.8" width="2" height="10.2" fill="#26a69a"/>
<rect x="442" y="405.8" width="1" height="28.2" fill="#ef5350" fill-opacity="0.55"/>
<rect x="442" y="408.8" width="2" height="23.7" fill="#ef5350"/>
<rect x="445" y="430.5" width="1" height="22.3" fill="#ef5350" fill-opacity="0.55"/>
<rect x="445" y="432.5" width="2" height="8.5" fill="#ef5350"/>
<rect x="448" y="435.0" width="1" height="11.4" fill="#ef5350" fill-opacity="0.55"/>
<rect x="448" y="441.0" width="2" height="3.4" fill="#ef5350"/>
<rect x="450" y="418.5" width="1" height="28.9" fill="#26a69a" fill-opacity="0.55"/>
<rect x="450" y="419.0" width="2" height="25.4" fill="#26a69a"/>
<rect x="453" y="418.0" width="1" height="38.2" fill="#ef5350" fill-opacity="0.55"/>
<rect x="453" y="419.0" width="2" height="28.8" fill="#ef5350"/>
<rect x="457" y="444.7" width="1" height="23.3" fill="#ef5350" fill-opacity="0.55"/>
<rect x="457" y="447.7" width="2" height="5.1" fill="#ef5350"/>
<rect x="460" y="433.3" width="1" height="23.5" fill="#26a69a" fill-opacity="0.55"/>
<rect x="460" y="439.3" width="2" height="13.5" fill="#26a69a"/>
<rect x="462" y="437.8" width="1" height="14.3" fill="#ef5350" fill-opacity="0.55"/>
<rect x="462" y="439.3" width="2" height="6.8" fill="#ef5350"/>
<rect x="465" y="413.0" width="1" height="34.6" fill="#26a69a" fill-opacity="0.55"/>
<rect x="465" y="419.0" width="2" height="27.1" fill="#26a69a"/>
<rect x="468" y="415.1" width="1" height="7.9" fill="#26a69a" fill-opacity="0.55"/>
<rect x="468" y="415.6" width="2" height="3.4" fill="#26a69a"/>
<rect x="471" y="403.7" width="1" height="21.2" fill="#ef5350" fill-opacity="0.55"/>
<rect x="471" y="415.6" width="2" height="3.4" fill="#ef5350"/>
<rect x="474" y="402.0" width="1" height="25.2" fill="#ef5350" fill-opacity="0.55"/>
<rect x="474" y="419.0" width="2" height="6.8" fill="#ef5350"/>
<rect x="478" y="422.7" width="1" height="14.7" fill="#ef5350" fill-opacity="0.55"/>
<rect x="478" y="425.7" width="2" height="10.2" fill="#ef5350"/>
<rect x="481" y="432.9" width="1" height="19.9" fill="#ef5350" fill-opacity="0.55"/>
<rect x="481" y="435.9" width="2" height="10.2" fill="#ef5350"/>
<rect x="484" y="429.9" width="1" height="24.2" fill="#26a69a" fill-opacity="0.55"/>
<rect x="484" y="435.9" width="2" height="10.2" fill="#26a69a"/>
<rect x="486" y="423.1" width="1" height="14.3" fill="#26a69a" fill-opacity="0.55"/>
<rect x="486" y="429.1" width="2" height="6.8" fill="#26a69a"/>
<rect x="489" y="400.7" width="1" height="28.9" fill="#26a69a" fill-opacity="0.55"/>
<rect x="489" y="403.7" width="2" height="25.4" fill="#26a69a"/>
<rect x="492" y="397.7" width="1" height="12.6" fill="#ef5350" fill-opacity="0.55"/>
<rect x="492" y="403.7" width="2" height="5.1" fill="#ef5350"/>
<rect x="495" y="398.0" width="1" height="15.7" fill="#ef5350" fill-opacity="0.55"/>
<rect x="495" y="408.8" width="2" height="3.4" fill="#ef5350"/>
<rect x="498" y="410.2" width="1" height="18.9" fill="#ef5350" fill-opacity="0.55"/>
<rect x="498" y="412.2" width="2" height="8.5" fill="#ef5350"/>
<rect x="502" y="402.4" width="1" height="18.7" fill="#26a69a" fill-opacity="0.55"/>
<rect x="502" y="405.4" width="2" height="15.2" fill="#26a69a"/>
<rect x="504" y="390.4" width="1" height="23.0" fill="#26a69a" fill-opacity="0.55"/>
<rect x="504" y="391.9" width="2" height="13.5" fill="#26a69a"/>
<rect x="507" y="382.5" width="1" height="10.4" fill="#26a69a" fill-opacity="0.55"/>
<rect x="507" y="388.5" width="2" height="3.4" fill="#26a69a"/>
<rect x="510" y="380.0" width="1" height="9.0" fill="#26a69a" fill-opacity="0.55"/>
<rect x="510" y="386.8" width="2" height="1.7" fill="#26a69a"/>
<rect x="513" y="385.8" width="1" height="13.2" fill="#ef5350" fill-opacity="0.55"/>
<rect x="513" y="386.8" width="2" height="10.2" fill="#ef5350"/>
<rect x="516" y="395.4" width="1" height="5.4" fill="#ef5350" fill-opacity="0.55"/>
<rect x="516" y="396.9" width="2" height="3.4" fill="#ef5350"/>
<rect x="519" y="386.8" width="1" height="14.5" fill="#26a69a" fill-opacity="0.55"/>
<rect x="519" y="395.3" width="2" height="5.1" fill="#26a69a"/>
<rect x="522" y="392.3" width="1" height="19.5" fill="#ef5350" fill-opacity="0.55"/>
<rect x="522" y="395.3" width="2" height="8.5" fill="#ef5350"/>
<rect x="525" y="400.7" width="1" height="13.2" fill="#ef5350" fill-opacity="0.55"/>
<rect x="525" y="403.7" width="2" height="1.7" fill="#ef5350"/>
<rect x="528" y="396.0" width="1" height="10.4" fill="#26a69a" fill-opacity="0.55"/>
<rect x="528" y="402.0" width="2" height="3.4" fill="#26a69a"/>
<rect x="531" y="361.1" width="1" height="44.9" fill="#26a69a" fill-opacity="0.55"/>
<rect x="531" y="363.1" width="2" height="38.9" fill="#26a69a"/>
<rect x="534" y="341.5" width="1" height="23.6" fill="#26a69a" fill-opacity="0.55"/>
<rect x="534" y="344.5" width="2" height="18.6" fill="#26a69a"/>
<rect x="537" y="339.4" width="1" height="23.3" fill="#ef5350" fill-opacity="0.55"/>
<rect x="537" y="344.5" width="2" height="15.2" fill="#ef5350"/>
<rect x="540" y="357.7" width="1" height="38.8" fill="#ef5350" fill-opacity="0.55"/>
<rect x="540" y="359.7" width="2" height="28.8" fill="#ef5350"/>
<rect x="543" y="385.5" width="1" height="19.9" fill="#ef5350" fill-opacity="0.55"/>
<rect x="543" y="388.5" width="2" height="8.5" fill="#ef5350"/>
<rect x="546" y="381.1" width="1" height="18.8" fill="#26a69a" fill-opacity="0.55"/>
<rect x="546" y="385.1" width="2" height="11.8" fill="#26a69a"/>
<rect x="549" y="378.7" width="1" height="8.4" fill="#26a69a" fill-opacity="0.55"/>
<rect x="549" y="381.7" width="2" height="3.4" fill="#26a69a"/>
<rect x="552" y="374.0" width="1" height="15.7" fill="#26a69a" fill-opacity="0.55"/>
<rect x="552" y="380.0" width="2" height="1.7" fill="#26a69a"/>
<rect x="555" y="379.0" width="1" height="18.8" fill="#ef5350" fill-opacity="0.55"/>
<rect x="555" y="380.0" width="2" height="11.8" fill="#ef5350"/>
<rect x="558" y="391.4" width="1" height="9.0" fill="#ef5350" fill-opacity="0.55"/>
<rect x="558" y="391.9" width="2" height="1.7" fill="#ef5350"/>
<rect x="561" y="369.6" width="1" height="28.0" fill="#26a69a" fill-opacity="0.55"/>
<rect x="561" y="371.6" width="2" height="22.0" fill="#26a69a"/>
<rect x="564" y="366.0" width="1" height="7.6" fill="#26a69a" fill-opacity="0.55"/>
<rect x="564" y="366.5" width="2" height="5.1" fill="#26a69a"/>
<rect x="567" y="357.7" width="1" height="9.8" fill="#26a69a" fill-opacity="0.55"/>
<rect x="567" y="359.7" width="2" height="6.8" fill="#26a69a"/>
<rect x="570" y="341.8" width="1" height="20.9" fill="#26a69a" fill-opacity="0.55"/>
<rect x="570" y="342.8" width="2" height="16.9" fill="#26a69a"/>
<rect x="573" y="318.2" width="1" height="25.6" fill="#26a69a" fill-opacity="0.55"/>
<rect x="573" y="324.2" width="2" height="18.6" fill="#26a69a"/>
<rect x="576" y="318.2" width="1" height="24.6" fill="#ef5350" fill-opacity="0.55"/>
<rect x="576" y="324.2" width="2" height="11.8" fill="#ef5350"/>
<rect x="579" y="321.9" width="1" height="18.2" fill="#26a69a" fill-opacity="0.55"/>
<rect x="579" y="325.9" width="2" height="10.2" fill="#26a69a"/>
<rect x="582" y="319.8" width="1" height="9.1" fill="#26a69a" fill-opacity="0.55"/>
<rect x="582" y="320.8" width="2" height="5.1" fill="#26a69a"/>
<rect x="585" y="311.3" width="1" height="17.5" fill="#26a69a" fill-opacity="0.55"/>
<rect x="585" y="312.3" width="2" height="8.5" fill="#26a69a"/>
<rect x="588" y="301.2" width="1" height="12.2" fill="#26a69a" fill-opacity="0.55"/>
<rect x="588" y="302.2" width="2" height="10.2" fill="#26a69a"/>
<rect x="591" y="291.7" width="1" height="18.5" fill="#26a69a" fill-opacity="0.55"/>
<rect x="591" y="293.7" width="2" height="8.5" fill="#26a69a"/>
<rect x="594" y="288.6" width="1" height="8.8" fill="#ef5350" fill-opacity="0.55"/>
<rect x="594" y="293.7" width="2" height="1.7" fill="#ef5350"/>
<rect x="597" y="294.4" width="1" height="17.2" fill="#ef5350" fill-opacity="0.55"/>
<rect x="597" y="295.4" width="2" height="10.2" fill="#ef5350"/>
<rect x="600" y="302.5" width="1" height="18.1" fill="#ef5350" fill-opacity="0.55"/>
<rect x="600" y="305.5" width="2" height="9.1" fill="#ef5350"/>
<rect x="603" y="313.2" width="1" height="12.6" fill="#ef5350" fill-opacity="0.55"/>
<rect x="603" y="314.7" width="2" height="5.1" fill="#ef5350"/>
<rect x="606" y="303.5" width="1" height="20.2" fill="#26a69a" fill-opacity="0.55"/>
<rect x="606" y="304.5" width="2" height="15.2" fill="#26a69a"/>
<rect x="609" y="303.0" width="1" height="7.6" fill="#ef5350" fill-opacity="0.55"/>
<rect x="609" y="304.5" width="2" height="5.1" fill="#ef5350"/>
<rect x="612" y="305.6" width="1" height="9.7" fill="#ef5350" fill-opacity="0.55"/>
<rect x="612" y="309.6" width="2" height="1.7" fill="#ef5350"/>
<rect x="615" y="300.6" width="1" height="14.7" fill="#26a69a" fill-opacity="0.55"/>
<rect x="615" y="301.1" width="2" height="10.2" fill="#26a69a"/>
<rect x="618" y="298.1" width="1" height="26.2" fill="#ef5350" fill-opacity="0.55"/>
<rect x="618" y="301.1" width="2" height="15.2" fill="#ef5350"/>
<rect x="621" y="312.7" width="1" height="4.2" fill="#26a69a" fill-opacity="0.55"/>
<rect x="621" y="314.7" width="2" height="1.7" fill="#26a69a"/>
<rect x="624" y="307.6" width="1" height="11.1" fill="#26a69a" fill-opacity="0.55"/>
<rect x="624" y="309.6" width="2" height="5.1" fill="#26a69a"/>
<rect x="627" y="298.1" width="1" height="14.5" fill="#26a69a" fill-opacity="0.55"/>
<rect x="627" y="301.1" width="2" height="8.5" fill="#26a69a"/>
<rect x="630" y="298.1" width="1" height="5.7" fill="#ef5350" fill-opacity="0.55"/>
<rect x="630" y="301.1" width="2" height="1.7" fill="#ef5350"/>
<rect x="633" y="276.9" width="1" height="27.9" fill="#26a69a" fill-opacity="0.55"/>
<rect x="633" y="277.4" width="2" height="25.4" fill="#26a69a"/>
<rect x="636" y="271.8" width="1" height="6.6" fill="#26a69a" fill-opacity="0.55"/>
<rect x="636" y="272.3" width="2" height="5.1" fill="#26a69a"/>
<rect x="639" y="270.8" width="1" height="6.2" fill="#ef5350" fill-opacity="0.55"/>
<rect x="639" y="272.3" width="2" height="1.7" fill="#ef5350"/>
<rect x="642" y="273.5" width="1" height="8.8" fill="#ef5350" fill-opacity="0.55"/>
<rect x="642" y="274.0" width="2" height="6.8" fill="#ef5350"/>
<rect x="645" y="267.5" width="1" height="14.8" fill="#26a69a" fill-opacity="0.55"/>
<rect x="645" y="269.0" width="2" height="11.8" fill="#26a69a"/>
<rect x="648" y="247.7" width="1" height="27.2" fill="#26a69a" fill-opacity="0.55"/>
<rect x="648" y="253.7" width="2" height="15.2" fill="#26a69a"/>
<rect x="651" y="237.6" width="1" height="19.2" fill="#26a69a" fill-opacity="0.55"/>
<rect x="651" y="243.6" width="2" height="10.2" fill="#26a69a"/>
<rect x="654" y="241.6" width="1" height="6.9" fill="#ef5350" fill-opacity="0.55"/>
<rect x="654" y="243.6" width="2" height="3.4" fill="#ef5350"/>
<rect x="657" y="232.1" width="1" height="22.8" fill="#26a69a" fill-opacity="0.55"/>
<rect x="657" y="235.1" width="2" height="11.8" fill="#26a69a"/>
<rect x="660" y="224.3" width="1" height="14.8" fill="#26a69a" fill-opacity="0.55"/>
<rect x="660" y="228.3" width="2" height="6.8" fill="#26a69a"/>
<rect x="663" y="224.4" width="1" height="6.9" fill="#26a69a" fill-opacity="0.55"/>
<rect x="663" y="224.9" width="2" height="3.4" fill="#26a69a"/>
<rect x="666" y="221.6" width="1" height="10.0" fill="#ef5350" fill-opacity="0.55"/>
<rect x="666" y="224.9" width="2" height="5.1" fill="#ef5350"/>
<rect x="669" y="226.3" width="1" height="4.7" fill="#26a69a" fill-opacity="0.55"/>
<rect x="669" y="228.3" width="2" height="1.7" fill="#26a69a"/>
<rect x="672" y="226.8" width="1" height="5.4" fill="#ef5350" fill-opacity="0.55"/>
<rect x="672" y="228.3" width="2" height="3.4" fill="#ef5350"/>
<rect x="675" y="224.3" width="1" height="8.4" fill="#26a69a" fill-opacity="0.55"/>
<rect x="675" y="228.3" width="2" height="3.4" fill="#26a69a"/>
<rect x="678" y="222.3" width="1" height="19.2" fill="#ef5350" fill-opacity="0.55"/>
<rect x="678" y="228.3" width="2" height="10.2" fill="#ef5350"/>
<rect x="681" y="238.0" width="1" height="33.0" fill="#ef5350" fill-opacity="0.55"/>
<rect x="681" y="238.5" width="2" height="30.5" fill="#ef5350"/>
<rect x="684" y="268.5" width="1" height="17.0" fill="#ef5350" fill-opacity="0.55"/>
<rect x="684" y="269.0" width="2" height="13.5" fill="#ef5350"/>
<rect x="687" y="276.5" width="1" height="23.9" fill="#ef5350" fill-opacity="0.55"/>
<rect x="687" y="282.5" width="2" height="16.9" fill="#ef5350"/>
<rect x="690" y="297.4" width="1" height="33.0" fill="#ef5350" fill-opacity="0.55"/>
<rect x="690" y="299.4" width="2" height="30.5" fill="#ef5350"/>
<rect x="693" y="328.4" width="1" height="12.6" fill="#ef5350" fill-opacity="0.55"/>
<rect x="693" y="329.9" width="2" height="5.1" fill="#ef5350"/>
<rect x="696" y="321.6" width="1" height="25.2" fill="#26a69a" fill-opacity="0.55"/>
<rect x="696" y="323.1" width="2" height="11.8" fill="#26a69a"/>
<rect x="699" y="313.0" width="1" height="27.1" fill="#ef5350" fill-opacity="0.55"/>
<rect x="699" y="323.1" width="2" height="10.2" fill="#ef5350"/>
<rect x="702" y="320.9" width="1" height="13.8" fill="#26a69a" fill-opacity="0.55"/>
<rect x="702" y="321.4" width="2" height="11.8" fill="#26a69a"/>
<rect x="705" y="304.7" width="1" height="17.2" fill="#26a69a" fill-opacity="0.55"/>
<rect x="705" y="306.2" width="2" height="15.2" fill="#26a69a"/>
<rect x="708" y="295.0" width="1" height="13.2" fill="#26a69a" fill-opacity="0.55"/>
<rect x="708" y="296.0" width="2" height="10.2" fill="#26a69a"/>
<rect x="711" y="272.5" width="1" height="26.5" fill="#26a69a" fill-opacity="0.55"/>
<rect x="711" y="274.0" width="2" height="22.0" fill="#26a69a"/>
<rect x="714" y="271.0" width="1" height="20.2" fill="#ef5350" fill-opacity="0.55"/>
<rect x="714" y="274.0" width="2" height="15.2" fill="#ef5350"/>
<rect x="717" y="277.6" width="1" height="19.7" fill="#26a69a" fill-opacity="0.55"/>
<rect x="717" y="279.1" width="2" height="10.2" fill="#26a69a"/>
<rect x="720" y="276.1" width="1" height="28.2" fill="#ef5350" fill-opacity="0.55"/>
<rect x="720" y="279.1" width="2" height="23.7" fill="#ef5350"/>
<rect x="723" y="301.3" width="1" height="21.8" fill="#ef5350" fill-opacity="0.55"/>
<rect x="723" y="302.8" width="2" height="10.2" fill="#ef5350"/>
<rect x="726" y="279.9" width="1" height="53.4" fill="#26a69a" fill-opacity="0.55"/>
<rect x="726" y="285.9" width="2" height="27.1" fill="#26a69a"/>
<rect x="729" y="264.1" width="1" height="22.3" fill="#26a69a" fill-opacity="0.55"/>
<rect x="729" y="265.6" width="2" height="20.3" fill="#26a69a"/>
<rect x="731" y="246.9" width="1" height="19.1" fill="#26a69a" fill-opacity="0.55"/>
<rect x="731" y="255.4" width="2" height="10.2" fill="#26a69a"/>
<rect x="734" y="248.0" width="1" height="9.4" fill="#26a69a" fill-opacity="0.55"/>
<rect x="734" y="252.0" width="2" height="3.4" fill="#26a69a"/>
<rect x="737" y="240.2" width="1" height="24.9" fill="#ef5350" fill-opacity="0.55"/>
<rect x="737" y="252.0" width="2" height="5.1" fill="#ef5350"/>
<rect x="741" y="256.1" width="1" height="27.6" fill="#ef5350" fill-opacity="0.55"/>
<rect x="741" y="257.1" width="2" height="18.6" fill="#ef5350"/>
<rect x="744" y="261.7" width="1" height="20.0" fill="#26a69a" fill-opacity="0.55"/>
<rect x="744" y="262.2" width="2" height="13.5" fill="#26a69a"/>
<rect x="746" y="244.6" width="1" height="25.5" fill="#26a69a" fill-opacity="0.55"/>
<rect x="746" y="248.6" width="2" height="13.5" fill="#26a69a"/>
<rect x="749" y="240.6" width="1" height="14.1" fill="#26a69a" fill-opacity="0.55"/>
<rect x="749" y="243.6" width="2" height="5.1" fill="#26a69a"/>
<rect x="752" y="225.3" width="1" height="21.2" fill="#26a69a" fill-opacity="0.55"/>
<rect x="752" y="228.3" width="2" height="15.2" fill="#26a69a"/>
<rect x="755" y="220.9" width="1" height="9.4" fill="#26a69a" fill-opacity="0.55"/>
<rect x="755" y="224.9" width="2" height="3.4" fill="#26a69a"/>
<rect x="758" y="213.8" width="1" height="15.2" fill="#26a69a" fill-opacity="0.55"/>
<rect x="758" y="214.8" width="2" height="10.2" fill="#26a69a"/>
<rect x="761" y="210.4" width="1" height="5.9" fill="#26a69a" fill-opacity="0.55"/>
<rect x="761" y="211.4" width="2" height="3.4" fill="#26a69a"/>
<rect x="765" y="199.2" width="1" height="16.2" fill="#26a69a" fill-opacity="0.55"/>
<rect x="765" y="201.2" width="2" height="10.2" fill="#26a69a"/>
<rect x="768" y="200.7" width="1" height="10.5" fill="#ef5350" fill-opacity="0.55"/>
<rect x="768" y="201.2" width="2" height="8.5" fill="#ef5350"/>
<rect x="770" y="209.2" width="1" height="11.7" fill="#ef5350" fill-opacity="0.55"/>
<rect x="770" y="209.7" width="2" height="10.2" fill="#ef5350"/>
<rect x="773" y="205.7" width="1" height="17.2" fill="#26a69a" fill-opacity="0.55"/>
<rect x="773" y="209.7" width="2" height="10.2" fill="#26a69a"/>
<rect x="776" y="200.9" width="1" height="10.3" fill="#26a69a" fill-opacity="0.55"/>
<rect x="776" y="202.9" width="2" height="6.8" fill="#26a69a"/>
<rect x="779" y="202.4" width="1" height="25.9" fill="#ef5350" fill-opacity="0.55"/>
<rect x="779" y="202.9" width="2" height="20.3" fill="#ef5350"/>
<rect x="782" y="205.7" width="1" height="23.5" fill="#26a69a" fill-opacity="0.55"/>
<rect x="782" y="209.7" width="2" height="13.5" fill="#26a69a"/>
<rect x="785" y="193.6" width="1" height="19.2" fill="#26a69a" fill-opacity="0.55"/>
<rect x="785" y="199.6" width="2" height="10.2" fill="#26a69a"/>
<rect x="788" y="194.9" width="1" height="6.7" fill="#26a69a" fill-opacity="0.55"/>
<rect x="788" y="197.9" width="2" height="1.7" fill="#26a69a"/>
<rect x="791" y="186.0" width="1" height="25.0" fill="#ef5350" fill-opacity="0.55"/>
<rect x="791" y="197.9" width="2" height="10.2" fill="#ef5350"/>
<rect x="794" y="205.8" width="1" height="10.2" fill="#26a69a" fill-opacity="0.55"/>
<rect x="794" y="206.3" width="2" height="1.7" fill="#26a69a"/>
<rect x="797" y="205.3" width="1" height="9.3" fill="#ef5350" fill-opacity="0.55"/>
<rect x="797" y="206.3" width="2" height="6.8" fill="#ef5350"/>
<rect x="800" y="201.4" width="1" height="30.3" fill="#26a69a" fill-opacity="0.55"/>
<rect x="800" y="202.9" width="2" height="10.2" fill="#26a69a"/>
<rect x="803" y="199.1" width="1" height="6.9" fill="#26a69a" fill-opacity="0.55"/>
<rect x="803" y="199.6" width="2" height="3.4" fill="#26a69a"/>
<rect x="806" y="177.7" width="1" height="25.8" fill="#26a69a" fill-opacity="0.55"/>
<rect x="806" y="179.2" width="2" height="20.3" fill="#26a69a"/>
<rect x="809" y="176.2" width="1" height="8.7" fill="#ef5350" fill-opacity="0.55"/>
<rect x="809" y="179.2" width="2" height="1.7" fill="#ef5350"/>
<rect x="812" y="179.9" width="1" height="6.6" fill="#ef5350" fill-opacity="0.55"/>
<rect x="812" y="180.9" width="2" height="5.1" fill="#ef5350"/>
<rect x="815" y="177.7" width="1" height="10.3" fill="#26a69a" fill-opacity="0.55"/>
<rect x="815" y="179.2" width="2" height="6.8" fill="#26a69a"/>
<rect x="818" y="177.7" width="1" height="29.6" fill="#ef5350" fill-opacity="0.55"/>
<rect x="818" y="179.2" width="2" height="18.6" fill="#ef5350"/>
<rect x="821" y="187.8" width="1" height="14.0" fill="#26a69a" fill-opacity="0.55"/>
<rect x="821" y="188.3" width="2" height="9.5" fill="#26a69a"/>
<rect x="824" y="182.9" width="1" height="6.4" fill="#26a69a" fill-opacity="0.55"/>
<rect x="824" y="184.9" width="2" height="3.4" fill="#26a69a"/>
<rect x="827" y="179.6" width="1" height="8.4" fill="#26a69a" fill-opacity="0.55"/>
<rect x="827" y="181.6" width="2" height="3.4" fill="#26a69a"/>
<rect x="830" y="175.2" width="1" height="8.4" fill="#26a69a" fill-opacity="0.55"/>
<rect x="830" y="178.2" width="2" height="3.4" fill="#26a69a"/>
<rect x="833" y="177.2" width="1" height="3.2" fill="#ef5350" fill-opacity="0.55"/>
<rect x="833" y="178.2" width="2" height="1.7" fill="#ef5350"/>
<rect x="836" y="177.7" width="1" height="5.2" fill="#26a69a" fill-opacity="0.55"/>
<rect x="836" y="178.2" width="2" height="1.7" fill="#26a69a"/>
<rect x="839" y="165.4" width="1" height="13.8" fill="#26a69a" fill-opacity="0.55"/>
<rect x="839" y="171.4" width="2" height="6.8" fill="#26a69a"/>
<rect x="842" y="170.4" width="1" height="17.2" fill="#ef5350" fill-opacity="0.55"/>
<rect x="842" y="171.4" width="2" height="10.2" fill="#ef5350"/>
<rect x="845" y="166.7" width="1" height="15.3" fill="#26a69a" fill-opacity="0.55"/>
<rect x="845" y="169.7" width="2" height="11.8" fill="#26a69a"/>
<rect x="848" y="159.2" width="1" height="11.0" fill="#26a69a" fill-opacity="0.55"/>
<rect x="848" y="161.2" width="2" height="8.5" fill="#26a69a"/>
<rect x="851" y="156.4" width="1" height="7.9" fill="#26a69a" fill-opacity="0.55"/>
<rect x="851" y="157.9" width="2" height="3.4" fill="#26a69a"/>
<rect x="854" y="145.4" width="1" height="14.5" fill="#26a69a" fill-opacity="0.55"/>
<rect x="854" y="149.4" width="2" height="8.5" fill="#26a69a"/>
<rect x="857" y="148.9" width="1" height="5.4" fill="#ef5350" fill-opacity="0.55"/>
<rect x="857" y="149.4" width="2" height="3.4" fill="#ef5350"/>
<rect x="860" y="147.1" width="1" height="17.5" fill="#26a69a" fill-opacity="0.55"/>
<rect x="860" y="151.1" width="2" height="1.7" fill="#26a69a"/>
<rect x="863" y="140.0" width="1" height="15.1" fill="#26a69a" fill-opacity="0.55"/>
<rect x="863" y="146.0" width="2" height="5.1" fill="#26a69a"/>
<rect x="866" y="140.3" width="1" height="44.7" fill="#ef5350" fill-opacity="0.55"/>
<rect x="866" y="146.0" width="2" height="11.8" fill="#ef5350"/>
<rect x="869" y="156.9" width="1" height="5.7" fill="#ef5350" fill-opacity="0.55"/>
<rect x="869" y="157.9" width="2" height="1.7" fill="#ef5350"/>
<rect x="872" y="155.6" width="1" height="12.3" fill="#ef5350" fill-opacity="0.55"/>
<rect x="872" y="159.6" width="2" height="6.8" fill="#ef5350"/>
<rect x="875" y="159.1" width="1" height="13.3" fill="#26a69a" fill-opacity="0.55"/>
<rect x="875" y="159.6" width="2" height="6.8" fill="#26a69a"/>
<rect x="878" y="155.6" width="1" height="12.3" fill="#ef5350" fill-opacity="0.55"/>
<rect x="878" y="159.6" width="2" height="6.8" fill="#ef5350"/>
<rect x="881" y="158.2" width="1" height="8.6" fill="#26a69a" fill-opacity="0.55"/>
<rect x="881" y="161.2" width="2" height="5.1" fill="#26a69a"/>
<rect x="884" y="150.2" width="1" height="13.1" fill="#26a69a" fill-opacity="0.55"/>
<rect x="884" y="156.2" width="2" height="5.1" fill="#26a69a"/>
<rect x="887" y="145.5" width="1" height="11.2" fill="#26a69a" fill-opacity="0.55"/>
<rect x="887" y="146.0" width="2" height="10.2" fill="#26a69a"/>
<rect x="890" y="145.5" width="1" height="5.4" fill="#ef5350" fill-opacity="0.55"/>
<rect x="890" y="146.0" width="2" height="3.4" fill="#ef5350"/>
<rect x="893" y="143.7" width="1" height="9.7" fill="#26a69a" fill-opacity="0.55"/>
<rect x="893" y="147.7" width="2" height="1.7" fill="#26a69a"/>
<rect x="896" y="145.5" width="1" height="15.7" fill="#26a69a" fill-opacity="0.55"/>
<rect x="896" y="146.0" width="2" height="1.7" fill="#26a69a"/>
<rect x="899" y="138.3" width="1" height="15.7" fill="#26a69a" fill-opacity="0.55"/>
<rect x="899" y="144.3" width="2" height="1.7" fill="#26a69a"/>
<rect x="902" y="141.3" width="1" height="4.7" fill="#ef5350" fill-opacity="0.55"/>
<rect x="902" y="144.3" width="2" height="1.2" fill="#ef5350"/>
<rect x="905" y="141.0" width="1" height="5.7" fill="#ef5350" fill-opacity="0.55"/>
<rect x="905" y="145.0" width="2" height="1.2" fill="#ef5350"/>
<rect x="908" y="142.0" width="1" height="7.7" fill="#ef5350" fill-opacity="0.55"/>
<rect x="908" y="146.0" width="2" height="1.7" fill="#ef5350"/>
<rect x="911" y="140.6" width="1" height="10.1" fill="#26a69a" fill-opacity="0.55"/>
<rect x="911" y="142.6" width="2" height="5.1" fill="#26a69a"/>
<rect x="914" y="137.0" width="1" height="13.6" fill="#26a69a" fill-opacity="0.55"/>
<rect x="914" y="137.5" width="2" height="5.1" fill="#26a69a"/>
<rect x="916" y="130.8" width="1" height="7.8" fill="#26a69a" fill-opacity="0.55"/>
<rect x="916" y="135.9" width="2" height="1.7" fill="#26a69a"/>
<rect x="920" y="131.9" width="1" height="18.5" fill="#ef5350" fill-opacity="0.55"/>
<rect x="920" y="135.9" width="2" height="13.5" fill="#ef5350"/>
<rect x="923" y="145.4" width="1" height="11.8" fill="#ef5350" fill-opacity="0.55"/>
<rect x="923" y="149.4" width="2" height="6.8" fill="#ef5350"/>
<rect x="926" y="113.2" width="1" height="50.9" fill="#26a69a" fill-opacity="0.55"/>
<rect x="926" y="117.2" width="2" height="38.9" fill="#26a69a"/>
<rect x="929" y="115.7" width="1" height="14.3" fill="#ef5350" fill-opacity="0.55"/>
<rect x="929" y="117.2" width="2" height="11.8" fill="#ef5350"/>
<rect x="932" y="123.1" width="1" height="15.8" fill="#ef5350" fill-opacity="0.55"/>
<rect x="932" y="129.1" width="2" height="6.8" fill="#ef5350"/>
<rect x="935" y="134.9" width="1" height="19.9" fill="#ef5350" fill-opacity="0.55"/>
<rect x="935" y="135.9" width="2" height="16.9" fill="#ef5350"/>
<rect x="937" y="151.8" width="1" height="10.7" fill="#ef5350" fill-opacity="0.55"/>
<rect x="937" y="152.8" width="2" height="1.7" fill="#ef5350"/>
<rect x="941" y="133.9" width="1" height="26.6" fill="#26a69a" fill-opacity="0.55"/>
<rect x="941" y="135.9" width="2" height="18.6" fill="#26a69a"/>
<rect x="944" y="128.6" width="1" height="15.3" fill="#26a69a" fill-opacity="0.55"/>
<rect x="944" y="129.1" width="2" height="6.8" fill="#26a69a"/>
<rect x="947" y="116.6" width="1" height="15.5" fill="#26a69a" fill-opacity="0.55"/>
<rect x="947" y="120.6" width="2" height="8.5" fill="#26a69a"/>
<rect x="950" y="111.2" width="1" height="9.9" fill="#26a69a" fill-opacity="0.55"/>
<rect x="950" y="117.2" width="2" height="3.4" fill="#26a69a"/>
<rect x="953" y="112.2" width="1" height="7.1" fill="#26a69a" fill-opacity="0.55"/>
<rect x="953" y="113.9" width="2" height="3.4" fill="#26a69a"/>
<rect x="955" y="113.4" width="1" height="25.7" fill="#ef5350" fill-opacity="0.55"/>
<rect x="955" y="113.9" width="2" height="23.7" fill="#ef5350"/>
<rect x="958" y="134.4" width="1" height="6.2" fill="#26a69a" fill-opacity="0.55"/>
<rect x="958" y="135.9" width="2" height="1.7" fill="#26a69a"/>
<rect x="962" y="119.9" width="1" height="18.9" fill="#26a69a" fill-opacity="0.55"/>
<rect x="962" y="130.8" width="2" height="5.1" fill="#26a69a"/>
<rect x="965" y="127.8" width="1" height="21.4" fill="#ef5350" fill-opacity="0.55"/>
<rect x="965" y="130.8" width="2" height="16.9" fill="#ef5350"/>
<rect x="968" y="147.2" width="1" height="30.5" fill="#ef5350" fill-opacity="0.55"/>
<rect x="968" y="147.7" width="2" height="22.0" fill="#ef5350"/>
<rect x="970" y="169.2" width="1" height="19.1" fill="#ef5350" fill-opacity="0.55"/>
<rect x="970" y="169.7" width="2" height="1.7" fill="#ef5350"/>
<rect x="973" y="147.9" width="1" height="24.5" fill="#26a69a" fill-opacity="0.55"/>
<rect x="973" y="149.4" width="2" height="22.0" fill="#26a69a"/>
<rect x="976" y="145.4" width="1" height="7.7" fill="#ef5350" fill-opacity="0.55"/>
<rect x="976" y="149.4" width="2" height="1.7" fill="#ef5350"/>
<rect x="979" y="147.1" width="1" height="13.7" fill="#ef5350" fill-opacity="0.55"/>
<rect x="979" y="151.1" width="2" height="1.7" fill="#ef5350"/>
<rect x="983" y="151.3" width="1" height="14.7" fill="#ef5350" fill-opacity="0.55"/>
<rect x="983" y="152.8" width="2" height="10.2" fill="#ef5350"/>
<rect x="985" y="160.9" width="1" height="28.6" fill="#ef5350" fill-opacity="0.55"/>
<rect x="985" y="162.9" width="2" height="18.6" fill="#ef5350"/>
<rect x="988" y="179.6" width="1" height="15.5" fill="#ef5350" fill-opacity="0.55"/>
<rect x="988" y="181.6" width="2" height="5.1" fill="#ef5350"/>
<rect x="991" y="166.7" width="1" height="21.9" fill="#26a69a" fill-opacity="0.55"/>
<rect x="991" y="169.7" width="2" height="16.9" fill="#26a69a"/>
<rect x="994" y="168.2" width="1" height="26.9" fill="#ef5350" fill-opacity="0.55"/>
<rect x="994" y="169.7" width="2" height="15.2" fill="#ef5350"/>
<rect x="997" y="182.9" width="1" height="18.9" fill="#ef5350" fill-opacity="0.55"/>
<rect x="997" y="184.9" width="2" height="6.8" fill="#ef5350"/>
<rect x="1000" y="186.8" width="1" height="12.9" fill="#26a69a" fill-opacity="0.55"/>
<rect x="1000" y="188.3" width="2" height="3.4" fill="#26a69a"/>
<rect x="1003" y="186.1" width="1" height="10.2" fill="#26a69a" fill-opacity="0.55"/>
<rect x="1003" y="186.6" width="2" height="1.7" fill="#26a69a"/>
<rect x="1006" y="185.1" width="1" height="91.2" fill="#ef5350" fill-opacity="0.55"/>
<rect x="1006" y="186.6" width="2" height="49.1" fill="#ef5350"/>
<rect x="1009" y="221.2" width="1" height="43.3" fill="#26a69a" fill-opacity="0.55"/>
<rect x="1009" y="222.2" width="2" height="13.5" fill="#26a69a"/>
<rect x="1012" y="204.8" width="1" height="18.4" fill="#26a69a" fill-opacity="0.55"/>
<rect x="1012" y="205.3" width="2" height="16.9" fill="#26a69a"/>
<rect x="1015" y="204.3" width="1" height="14.2" fill="#ef5350" fill-opacity="0.55"/>
<rect x="1015" y="205.3" width="2" height="10.2" fill="#ef5350"/>
<rect x="1018" y="213.9" width="1" height="43.6" fill="#ef5350" fill-opacity="0.55"/>
<rect x="1018" y="215.4" width="2" height="40.6" fill="#ef5350"/>
<rect x="1021" y="253.0" width="1" height="33.5" fill="#ef5350" fill-opacity="0.55"/>
<rect x="1021" y="256.0" width="2" height="16.9" fill="#ef5350"/>
<rect x="1024" y="264.0" width="1" height="13.0" fill="#26a69a" fill-opacity="0.55"/>
<rect x="1024" y="264.5" width="2" height="8.5" fill="#26a69a"/>
<rect x="1027" y="253.3" width="1" height="19.2" fill="#26a69a" fill-opacity="0.55"/>
<rect x="1027" y="254.3" width="2" height="10.2" fill="#26a69a"/>
<rect x="1030" y="223.9" width="1" height="36.5" fill="#26a69a" fill-opacity="0.55"/>
<rect x="1030" y="242.5" width="2" height="11.8" fill="#26a69a"/>
<rect x="1033" y="235.7" width="1" height="11.7" fill="#ef5350" fill-opacity="0.55"/>
<rect x="1033" y="242.5" width="2" height="3.4" fill="#ef5350"/>
<rect x="1036" y="245.4" width="1" height="27.1" fill="#ef5350" fill-opacity="0.55"/>
<rect x="1036" y="245.9" width="2" height="18.6" fill="#ef5350"/>
<rect x="1039" y="260.5" width="1" height="13.7" fill="#ef5350" fill-opacity="0.55"/>
<rect x="1039" y="264.5" width="2" height="1.7" fill="#ef5350"/>
<rect x="1041" y="262.7" width="1" height="6.5" fill="#26a69a" fill-opacity="0.55"/>
<rect x="1041" y="264.7" width="2" height="1.5" fill="#26a69a"/>
<rect x="1044" y="259.0" width="1" height="7.2" fill="#26a69a" fill-opacity="0.55"/>
<rect x="1044" y="263.0" width="2" height="1.7" fill="#26a69a"/>
<rect x="1047" y="256.0" width="1" height="19.4" fill="#ef5350" fill-opacity="0.55"/>
<rect x="1047" y="263.0" width="2" height="8.5" fill="#ef5350"/>
<rect x="1050" y="269.4" width="1" height="12.8" fill="#ef5350" fill-opacity="0.55"/>
<rect x="1050" y="271.4" width="2" height="6.8" fill="#ef5350"/>
<rect x="1053" y="277.7" width="1" height="15.7" fill="#ef5350" fill-opacity="0.55"/>
<rect x="1053" y="278.2" width="2" height="8.5" fill="#ef5350"/>
<rect x="1056" y="284.5" width="1" height="6.2" fill="#26a69a" fill-opacity="0.55"/>
<rect x="1056" y="285.0" width="2" height="1.7" fill="#26a69a"/>
<rect x="1059" y="265.4" width="1" height="23.5" fill="#26a69a" fill-opacity="0.55"/>
<rect x="1059" y="271.4" width="2" height="13.5" fill="#26a69a"/>
<rect x="1062" y="242.7" width="1" height="34.8" fill="#26a69a" fill-opacity="0.55"/>
<rect x="1062" y="252.8" width="2" height="18.6" fill="#26a69a"/>
<rect x="1065" y="232.0" width="1" height="22.8" fill="#26a69a" fill-opacity="0.55"/>
<rect x="1065" y="232.5" width="2" height="20.3" fill="#26a69a"/>
<rect x="1068" y="205.5" width="1" height="27.6" fill="#26a69a" fill-opacity="0.55"/>
<rect x="1068" y="229.1" width="2" height="3.4" fill="#26a69a"/>
<rect x="1071" y="225.1" width="1" height="12.1" fill="#ef5350" fill-opacity="0.55"/>
<rect x="1071" y="229.1" width="2" height="5.1" fill="#ef5350"/>
<rect x="1074" y="231.0" width="1" height="7.2" fill="#26a69a" fill-opacity="0.55"/>
<rect x="1074" y="232.5" width="2" height="1.7" fill="#26a69a"/>
<rect x="1077" y="211.7" width="1" height="26.8" fill="#26a69a" fill-opacity="0.55"/>
<rect x="1077" y="212.2" width="2" height="20.3" fill="#26a69a"/>
<rect x="1080" y="210.2" width="1" height="9.8" fill="#ef5350" fill-opacity="0.55"/>
<rect x="1080" y="212.2" width="2" height="6.8" fill="#ef5350"/>
<rect x="1083" y="217.5" width="1" height="10.9" fill="#ef5350" fill-opacity="0.55"/>
<rect x="1083" y="219.0" width="2" height="3.4" fill="#ef5350"/>
<rect x="1086" y="207.9" width="1" height="17.5" fill="#26a69a" fill-opacity="0.55"/>
<rect x="1086" y="213.9" width="2" height="8.5" fill="#26a69a"/>
<rect x="1089" y="182.6" width="1" height="31.9" fill="#26a69a" fill-opacity="0.55"/>
<rect x="1089" y="188.6" width="2" height="25.4" fill="#26a69a"/>
<rect x="1092" y="170.1" width="1" height="19.4" fill="#26a69a" fill-opacity="0.55"/>
<rect x="1092" y="171.6" width="2" height="16.9" fill="#26a69a"/>
<rect x="1095" y="169.4" width="1" height="5.2" fill="#26a69a" fill-opacity="0.55"/>
<rect x="1095" y="169.9" width="2" height="1.7" fill="#26a69a"/>
<rect x="1098" y="165.9" width="1" height="8.9" fill="#ef5350" fill-opacity="0.55"/>
<rect x="1098" y="169.9" width="2" height="3.4" fill="#ef5350"/>
<rect x="1101" y="170.6" width="1" height="5.7" fill="#26a69a" fill-opacity="0.55"/>
<rect x="1101" y="171.6" width="2" height="1.7" fill="#26a69a"/>
<rect x="1104" y="167.9" width="1" height="7.7" fill="#26a69a" fill-opacity="0.55"/>
<rect x="1104" y="169.9" width="2" height="1.7" fill="#26a69a"/>
<rect x="1107" y="168.9" width="1" height="24.7" fill="#ef5350" fill-opacity="0.55"/>
<rect x="1107" y="169.9" width="2" height="13.5" fill="#ef5350"/>
<rect x="1110" y="170.7" width="1" height="18.8" fill="#26a69a" fill-opacity="0.55"/>
<rect x="1110" y="176.7" width="2" height="6.8" fill="#26a69a"/>
<rect x="1113" y="176.2" width="1" height="11.6" fill="#ef5350" fill-opacity="0.55"/>
<rect x="1113" y="176.7" width="2" height="5.1" fill="#ef5350"/>
<rect x="1116" y="168.6" width="1" height="15.1" fill="#26a69a" fill-opacity="0.55"/>
<rect x="1116" y="171.6" width="2" height="10.1" fill="#26a69a"/>
<rect x="1119" y="167.6" width="1" height="16.8" fill="#ef5350" fill-opacity="0.55"/>
<rect x="1119" y="171.6" width="2" height="11.8" fill="#ef5350"/>
<rect x="1122" y="183.0" width="1" height="22.5" fill="#ef5350" fill-opacity="0.55"/>
<rect x="1122" y="183.5" width="2" height="11.8" fill="#ef5350"/>
<rect x="1125" y="193.3" width="1" height="6.9" fill="#ef5350" fill-opacity="0.55"/>
<rect x="1125" y="195.3" width="2" height="3.4" fill="#ef5350"/>
<rect x="1128" y="167.6" width="1" height="34.1" fill="#26a69a" fill-opacity="0.55"/>
<rect x="1128" y="171.6" width="2" height="27.1" fill="#26a69a"/>
<rect x="1131" y="162.9" width="1" height="9.3" fill="#26a69a" fill-opacity="0.55"/>
<rect x="1131" y="164.9" width="2" height="6.8" fill="#26a69a"/>
<rect x="1134" y="161.9" width="1" height="14.6" fill="#ef5350" fill-opacity="0.55"/>
<rect x="1134" y="164.9" width="2" height="10.1" fill="#ef5350"/>
<rect x="1137" y="172.3" width="1" height="7.8" fill="#26a69a" fill-opacity="0.55"/>
<rect x="1137" y="173.3" width="2" height="1.7" fill="#26a69a"/>
<rect x="1140" y="152.7" width="1" height="24.6" fill="#26a69a" fill-opacity="0.55"/>
<rect x="1140" y="154.7" width="2" height="18.6" fill="#26a69a"/>
<rect x="1143" y="151.5" width="1" height="6.2" fill="#26a69a" fill-opacity="0.55"/>
<rect x="1143" y="153.0" width="2" height="1.7" fill="#26a69a"/>
<rect x="1146" y="149.8" width="1" height="6.2" fill="#26a69a" fill-opacity="0.55"/>
<rect x="1146" y="151.3" width="2" height="1.7" fill="#26a69a"/>
<rect x="1149" y="129.0" width="1" height="24.3" fill="#26a69a" fill-opacity="0.55"/>
<rect x="1149" y="131.0" width="2" height="20.3" fill="#26a69a"/>
<rect x="1152" y="129.5" width="1" height="11.2" fill="#ef5350" fill-opacity="0.55"/>
<rect x="1152" y="131.0" width="2" height="1.7" fill="#ef5350"/>
<rect x="1155" y="129.7" width="1" height="19.1" fill="#ef5350" fill-opacity="0.55"/>
<rect x="1155" y="132.7" width="2" height="10.1" fill="#ef5350"/>
<rect x="1158" y="140.7" width="1" height="3.7" fill="#26a69a" fill-opacity="0.55"/>
<rect x="1158" y="141.2" width="2" height="1.7" fill="#26a69a"/>
<rect x="1161" y="137.2" width="1" height="7.2" fill="#ef5350" fill-opacity="0.55"/>
<rect x="1161" y="141.2" width="2" height="1.7" fill="#ef5350"/>
<rect x="1164" y="140.7" width="1" height="4.2" fill="#26a69a" fill-opacity="0.55"/>
<rect x="1164" y="141.2" width="2" height="1.7" fill="#26a69a"/>
<rect x="1167" y="134.8" width="1" height="14.4" fill="#26a69a" fill-opacity="0.55"/>
<rect x="1167" y="137.8" width="2" height="3.4" fill="#26a69a"/>
<rect x="1170" y="133.1" width="1" height="6.7" fill="#26a69a" fill-opacity="0.55"/>
<rect x="1170" y="136.1" width="2" height="1.7" fill="#26a69a"/>
<rect x="1173" y="130.7" width="1" height="9.4" fill="#26a69a" fill-opacity="0.55"/>
<rect x="1173" y="132.7" width="2" height="3.4" fill="#26a69a"/>
<rect x="1176" y="125.0" width="1" height="15.7" fill="#26a69a" fill-opacity="0.55"/>
<rect x="1176" y="131.0" width="2" height="1.7" fill="#26a69a"/>
<rect x="1179" y="129.0" width="1" height="8.6" fill="#ef5350" fill-opacity="0.55"/>
<rect x="1179" y="131.0" width="2" height="5.1" fill="#ef5350"/>
<rect x="1182" y="129.7" width="1" height="8.4" fill="#26a69a" fill-opacity="0.55"/>
<rect x="1182" y="132.7" width="2" height="3.4" fill="#26a69a"/>
<rect x="1185" y="131.7" width="1" height="23.0" fill="#ef5350" fill-opacity="0.55"/>
<rect x="1185" y="132.7" width="2" height="8.5" fill="#ef5350"/>
<rect x="1188" y="140.2" width="1" height="6.7" fill="#ef5350" fill-opacity="0.55"/>
<rect x="1188" y="141.2" width="2" height="1.7" fill="#ef5350"/>
<rect x="1191" y="131.4" width="1" height="12.5" fill="#26a69a" fill-opacity="0.55"/>
<rect x="1191" y="134.4" width="2" height="8.5" fill="#26a69a"/>
<rect x="1194" y="132.9" width="1" height="10.3" fill="#ef5350" fill-opacity="0.55"/>
<rect x="1194" y="134.4" width="2" height="6.8" fill="#ef5350"/>
<rect x="1197" y="139.7" width="1" height="13.0" fill="#ef5350" fill-opacity="0.55"/>
<rect x="1197" y="141.2" width="2" height="8.5" fill="#ef5350"/>
<rect x="1200" y="143.6" width="1" height="36.8" fill="#ef5350" fill-opacity="0.55"/>
<rect x="1200" y="149.6" width="2" height="28.8" fill="#ef5350"/>
<rect x="1203" y="177.9" width="1" height="23.4" fill="#ef5350" fill-opacity="0.55"/>
<rect x="1203" y="178.4" width="2" height="16.9" fill="#ef5350"/>
<rect x="1206" y="186.6" width="1" height="14.8" fill="#26a69a" fill-opacity="0.55"/>
<rect x="1206" y="188.6" width="2" height="6.8" fill="#26a69a"/>
<rect x="1209" y="175.0" width="1" height="15.5" fill="#26a69a" fill-opacity="0.55"/>
<rect x="1209" y="183.5" width="2" height="5.1" fill="#26a69a"/>
<rect x="1212" y="173.0" width="1" height="13.5" fill="#26a69a" fill-opacity="0.55"/>
<rect x="1212" y="175.0" width="2" height="8.5" fill="#26a69a"/>
<rect x="1215" y="168.4" width="1" height="7.1" fill="#26a69a" fill-opacity="0.55"/>
<rect x="1215" y="169.9" width="2" height="5.1" fill="#26a69a"/>
<rect x="1218" y="159.5" width="1" height="13.5" fill="#26a69a" fill-opacity="0.55"/>
<rect x="1218" y="161.5" width="2" height="8.5" fill="#26a69a"/>
<rect x="1221" y="155.1" width="1" height="10.4" fill="#26a69a" fill-opacity="0.55"/>
<rect x="1221" y="158.1" width="2" height="3.4" fill="#26a69a"/>
<rect x="1224" y="130.0" width="1" height="30.1" fill="#26a69a" fill-opacity="0.55"/>
<rect x="1224" y="131.0" width="2" height="27.1" fill="#26a69a"/>
<rect x="1227" y="115.3" width="1" height="18.7" fill="#26a69a" fill-opacity="0.55"/>
<rect x="1227" y="115.8" width="2" height="15.2" fill="#26a69a"/>
<rect x="1230" y="114.8" width="1" height="15.5" fill="#ef5350" fill-opacity="0.55"/>
<rect x="1230" y="115.8" width="2" height="8.5" fill="#ef5350"/>
<rect x="1233" y="112.1" width="1" height="20.1" fill="#26a69a" fill-opacity="0.55"/>
<rect x="1233" y="114.1" width="2" height="10.1" fill="#26a69a"/>
<rect x="1236" y="112.1" width="1" height="13.5" fill="#ef5350" fill-opacity="0.55"/>
<rect x="1236" y="114.1" width="2" height="8.5" fill="#ef5350"/>
<rect x="1239" y="113.2" width="1" height="9.9" fill="#26a69a" fill-opacity="0.55"/>
<rect x="1239" y="119.2" width="2" height="3.4" fill="#26a69a"/>
<rect x="1242" y="110.7" width="1" height="10.6" fill="#ef5350" fill-opacity="0.55"/>
<rect x="1242" y="119.2" width="2" height="1.7" fill="#ef5350"/>
<rect x="1245" y="118.9" width="1" height="11.7" fill="#ef5350" fill-opacity="0.55"/>
<rect x="1245" y="120.9" width="2" height="1.7" fill="#ef5350"/>
<rect x="1248" y="117.9" width="1" height="12.7" fill="#26a69a" fill-opacity="0.55"/>
<rect x="1248" y="120.9" width="2" height="1.7" fill="#26a69a"/>
<rect x="1251" y="118.7" width="1" height="3.2" fill="#26a69a" fill-opacity="0.55"/>
<rect x="1251" y="119.2" width="2" height="1.7" fill="#26a69a"/>
<rect x="1254" y="115.5" width="1" height="11.7" fill="#26a69a" fill-opacity="0.55"/>
<rect x="1254" y="117.5" width="2" height="1.7" fill="#26a69a"/>
<rect x="1257" y="112.1" width="1" height="7.4" fill="#26a69a" fill-opacity="0.55"/>
<rect x="1257" y="114.1" width="2" height="3.4" fill="#26a69a"/>
<rect x="1260" y="108.1" width="1" height="12.1" fill="#ef5350" fill-opacity="0.55"/>
<rect x="1260" y="114.1" width="2" height="5.1" fill="#ef5350"/>
<rect x="1263" y="114.8" width="1" height="14.5" fill="#26a69a" fill-opacity="0.55"/>
<rect x="1263" y="115.8" width="2" height="3.4" fill="#26a69a"/>
<rect x="1266" y="113.1" width="1" height="3.7" fill="#26a69a" fill-opacity="0.55"/>
<rect x="1266" y="114.1" width="2" height="1.7" fill="#26a69a"/>
<rect x="1269" y="106.4" width="1" height="15.7" fill="#26a69a" fill-opacity="0.55"/>
<rect x="1269" y="112.4" width="2" height="1.7" fill="#26a69a"/>
<rect x="1272" y="95.0" width="1" height="17.9" fill="#26a69a" fill-opacity="0.55"/>
<rect x="1272" y="95.5" width="2" height="16.9" fill="#26a69a"/>
<rect x="1275" y="91.6" width="1" height="6.3" fill="#26a69a" fill-opacity="0.55"/>
<rect x="1275" y="92.1" width="2" height="3.4" fill="#26a69a"/>
<rect x="1278" y="89.8" width="1" height="10.1" fill="#26a69a" fill-opacity="0.55"/>
<rect x="1278" y="91.5" width="2" height="1.2" fill="#26a69a"/>
<rect x="1281" y="72.9" width="1" height="21.6" fill="#26a69a" fill-opacity="0.55"/>
<rect x="1281" y="75.2" width="2" height="16.2" fill="#26a69a"/>
<rect x="1285" y="75.0" width="1" height="1.4" fill="#ef5350" fill-opacity="0.55"/>
<rect x="1285" y="75.2" width="2" height="1.0" fill="#ef5350"/>
</g>
<g clip-path="url(#cr)">
<path d="M27.2 570.6 L27.2 569.8 L30.2 556.5 L33.3 552.2 L36.5 550.7 L36.5 570.6 Z" fill="#4caf50" fill-opacity="0.13"/>
<path d="M41.6 570.6 L41.6 570.3 L44.8 562.2 L44.8 570.6 Z" fill="#4caf50" fill-opacity="0.13"/>
<path d="M107.1 570.6 L107.1 569.1 L110.4 565.3 L113.4 555.2 L117.2 553.2 L120.9 548.9 L125.2 547.1 L126.7 555.2 L126.7 570.6 Z" fill="#4caf50" fill-opacity="0.13"/>
<path d="M589.4 570.6 L589.4 566.5 L591.9 564.0 L594.9 570.3 L594.9 570.6 Z" fill="#4caf50" fill-opacity="0.13"/>
<path d="M648.6 570.6 L648.6 567.8 L651.8 562.8 L654.4 566.5 L657.4 562.8 L662.9 556.5 L666.2 567.8 L669.5 564.0 L672.5 567.8 L675.5 570.3 L675.5 570.6 Z" fill="#4caf50" fill-opacity="0.13"/>
<path d="M1273.0 570.6 L1273.0 567.3 L1276.0 563.3 L1278.8 562.8 L1281.8 552.7 L1284.3 553.9 L1284.3 570.6 Z" fill="#4caf50" fill-opacity="0.13"/>
<path d="M9.1 590.5 L12.6 584.2 L16.4 581.7 L20.2 574.1 L23.9 572.8 L27.2 569.8 L30.2 556.5 L33.3 552.2 L36.5 550.7 L38.5 574.8 L41.6 570.3 L44.8 562.2 L47.4 581.7 L50.4 579.9 L53.7 586.7 L57.9 582.4 L62.2 577.9 L66.0 600.5 L71.3 582.4 L74.8 582.9 L77.6 590.5 L81.1 587.9 L84.9 585.9 L89.9 593.0 L94.5 585.9 L99.5 580.4 L103.3 577.9 L107.1 569.1 L110.4 565.3 L113.4 555.2 L117.2 553.2 L120.9 548.9 L125.2 547.1 L126.7 555.2 L128.5 591.7 L131.0 580.4 L134.0 590.5 L137.3 613.1 L139.8 614.4 L143.1 603.1 L146.1 591.7 L149.9 598.0 L152.4 603.1 L155.0 599.3 L158.2 615.7 L161.2 616.9 L164.3 625.7 L166.8 617.7 L169.3 653.5 L173.3 665.6 L176.4 654.7 L178.9 656.0 L181.9 653.5 L185.2 647.2 L188.2 645.9 L191.0 629.5 L194.0 634.6 L197.0 644.6 L200.3 650.9 L203.6 645.9 L206.6 647.2 L211.1 649.7 L214.7 666.1 L217.9 669.8 L220.5 645.9 L224.2 640.9 L228.0 643.9 L232.3 643.4 L235.6 632.8 L238.1 645.9 L241.4 647.2 L244.4 624.5 L248.2 632.0 L251.2 630.8 L253.2 658.5 L257.0 653.5 L260.8 652.2 L264.6 648.4 L267.6 647.2 L272.1 632.0 L275.1 643.4 L278.4 652.2 L280.9 653.5 L283.4 652.2 L286.0 638.3 L289.7 627.0 L293.5 637.1 L296.0 637.8 L299.8 633.3 L302.3 632.0 L304.9 653.5 L307.9 659.8 L311.2 653.0 L314.2 654.0 L317.5 647.2 L320.0 648.4 L322.5 635.8 L325.8 626.2 L328.8 630.8 L332.1 633.3 L335.1 627.0 L337.6 628.3 L340.6 624.5 L343.9 628.3 L347.2 635.8 L349.5 638.8 L351.5 613.1 L352.5 608.1 L355.0 600.5 L358.3 615.2 L362.6 611.9 L366.4 611.1 L368.9 613.1 L372.7 601.8 L376.5 590.0 L379.7 591.7 L385.3 589.2 L388.3 582.9 L391.6 584.9 L394.8 587.4 L397.4 573.3 L400.4 576.6 L403.4 577.4 L406.7 576.6 L409.5 571.6 L411.7 587.4 L415.0 587.9 L417.5 576.6 L421.3 574.8 L423.6 584.2 L426.8 610.6 L430.1 630.8 L433.1 618.7 L435.7 627.0 L438.7 625.2 L441.2 639.6 L445.2 644.6 L448.3 631.3 L451.3 640.9 L454.6 644.6 L457.8 644.6 L460.9 633.8 L463.4 639.6 L465.4 618.2 L469.7 617.7 L472.2 616.9 L476.0 622.0 L479.8 632.8 L483.5 628.3 L487.3 618.2 L490.3 604.3 L493.1 603.8 L496.1 610.6 L499.2 617.7 L502.4 605.6 L505.7 596.8 L508.2 601.8 L511.2 596.8 L514.3 601.8 L517.5 603.6 L520.8 603.1 L523.8 611.1 L526.9 610.1 L529.4 605.6 L531.9 579.1 L534.7 570.3 L537.7 585.4 L540.2 609.4 L544.0 614.4 L547.0 608.1 L550.3 605.6 L552.8 604.3 L556.1 615.7 L559.1 613.1 L561.6 599.3 L564.7 595.5 L567.9 591.7 L571.2 577.9 L573.7 573.3 L576.8 584.2 L579.8 580.4 L583.1 579.1 L586.1 572.8 L589.4 566.5 L591.9 564.0 L594.9 570.3 L598.2 579.1 L601.2 589.2 L604.0 595.0 L606.5 584.2 L609.5 590.0 L613.3 589.2 L615.8 584.9 L619.1 603.6 L622.1 598.0 L625.1 594.2 L628.4 589.2 L631.7 590.5 L634.2 584.2 L636.7 574.1 L639.7 572.8 L642.8 582.9 L645.5 577.9 L648.6 567.8 L651.8 562.8 L654.4 566.5 L657.4 562.8 L662.9 556.5 L666.2 567.8 L669.5 564.0 L672.5 567.8 L675.5 570.3 L678.8 590.5 L681.3 615.7 L685.1 630.8 L687.6 640.9 L690.1 653.5 L692.7 657.2 L696.4 646.4 L701.5 645.4 L702.5 644.6 L705.0 633.3 L708.1 623.2 L711.3 603.6 L715.1 610.6 L718.1 616.9 L721.4 627.0 L723.2 633.3 L726.5 613.1 L729.0 600.5 L732.2 593.5 L735.3 590.5 L738.3 601.8 L741.6 610.6 L744.8 599.3 L747.9 593.0 L750.4 590.5 L752.9 582.9 L755.9 580.4 L759.2 576.6 L762.5 574.1 L765.0 570.3 L767.5 576.6 L771.1 585.4 L773.8 578.4 L776.8 585.4 L780.1 600.5 L783.1 589.2 L786.9 583.4 L789.4 584.9 L792.0 593.0 L794.5 591.7 L797.8 601.1 L800.8 594.2 L803.8 590.0 L807.1 578.4 L810.4 579.1 L812.6 586.7 L815.9 580.4 L818.4 601.8 L821.4 596.0 L824.7 593.0 L828.0 591.7 L830.5 587.4 L833.5 590.5 L836.8 588.5 L839.8 584.2 L842.9 597.5 L845.6 588.5 L848.7 582.9 L851.7 580.4 L855.0 574.8 L857.5 577.9 L860.7 577.9 L863.8 572.3 L865.8 590.5 L869.3 591.7 L872.6 603.1 L875.6 591.0 L878.9 605.6 L881.9 602.6 L885.2 596.8 L887.7 589.2 L890.7 593.0 L894.0 593.0 L897.0 590.0 L900.3 589.2 L904.6 588.5 L907.9 591.7 L911.1 588.5 L914.2 583.4 L917.2 579.1 L919.7 600.5 L923.5 616.9 L926.0 575.9 L928.8 590.5 L931.8 598.0 L934.8 617.7 L938.1 608.1 L941.4 603.1 L944.4 595.0 L947.4 591.7 L950.7 588.5 L953.2 586.7 L955.7 611.1 L958.3 600.0 L961.5 606.1 L964.6 618.7 L968.3 637.1 L970.8 637.1 L974.1 620.2 L977.1 619.4 L980.2 622.0 L983.4 630.8 L986.0 643.4 L989.0 646.4 L991.8 631.3 L994.8 644.6 L997.8 639.6 L1001.1 638.3 L1003.6 637.1 L1006.9 663.0 L1009.9 648.4 L1013.7 635.8 L1017.0 650.4 L1019.5 659.8 L1022.5 663.5 L1025.8 657.2 L1028.8 645.9 L1031.3 639.6 L1034.6 642.1 L1037.6 650.9 L1040.6 648.4 L1043.9 647.9 L1047.2 647.2 L1050.2 652.2 L1052.5 656.0 L1056.3 659.0 L1058.8 650.9 L1061.3 633.3 L1063.9 618.2 L1067.1 608.6 L1069.7 609.4 L1072.7 612.6 L1075.7 609.4 L1078.2 596.8 L1081.5 601.8 L1084.8 606.8 L1087.8 598.0 L1091.1 585.4 L1094.1 577.4 L1097.9 577.4 L1101.7 578.4 L1105.4 576.6 L1108.5 591.7 L1111.7 587.9 L1114.2 584.2 L1117.5 595.5 L1120.5 596.0 L1123.6 608.1 L1126.8 614.4 L1129.4 591.7 L1132.6 587.9 L1135.7 598.5 L1138.2 596.8 L1141.2 584.9 L1144.5 584.2 L1147.0 582.9 L1150.8 570.8 L1153.3 575.4 L1155.8 586.7 L1159.6 584.2 L1162.9 586.7 L1165.9 588.5 L1169.7 582.9 L1173.5 582.4 L1176.7 581.1 L1179.8 584.2 L1183.0 582.9 L1186.1 600.0 L1189.8 598.0 L1192.4 590.5 L1195.6 600.5 L1198.7 616.9 L1201.7 633.3 L1205.0 645.9 L1206.7 650.9 L1210.0 638.3 L1212.5 635.8 L1215.8 623.2 L1218.8 611.9 L1221.3 610.1 L1225.1 587.9 L1228.1 582.4 L1230.9 577.9 L1233.9 581.1 L1236.9 582.4 L1239.5 581.1 L1242.7 586.7 L1246.0 585.4 L1249.0 586.7 L1251.6 582.9 L1254.6 583.4 L1257.9 582.9 L1261.1 591.7 L1264.2 587.9 L1266.7 582.9 L1269.7 584.2 L1273.0 567.3 L1276.0 563.3 L1278.8 562.8 L1281.8 552.7 L1284.3 553.9" fill="none" stroke="#8a5fd0" stroke-width="1.05" stroke-linejoin="round"/>
<path d="M9.1 610.6 C11.1 608.1 10.6 609.4 15.1 603.1 C19.7 596.8 17.6 598.4 22.7 591.7 C27.7 585.0 26.0 587.1 30.2 582.9 C34.4 578.7 31.1 581.8 35.3 579.1 C39.5 576.4 38.2 577.4 42.8 574.8 C47.5 572.3 43.3 572.7 49.1 571.6 C55.0 570.5 54.2 570.3 60.5 571.6 C66.8 572.8 62.1 571.7 68.0 575.4 C73.9 579.0 71.8 578.9 78.1 582.4 C84.4 585.9 81.5 584.3 86.9 585.9 C92.4 587.6 89.0 587.1 94.5 587.4 C99.9 587.8 97.8 588.6 103.3 586.9 C108.8 585.3 105.8 585.8 110.9 582.4 C115.9 579.0 113.8 580.5 118.4 576.6 C123.0 572.7 120.1 573.1 124.7 570.8 C129.3 568.5 128.5 569.6 132.3 569.8 C136.1 570.1 132.7 569.7 136.1 571.6 C139.4 573.4 138.2 573.3 142.4 575.4 C146.6 577.5 144.5 574.9 148.7 577.9 C152.9 580.8 150.8 579.1 155.0 584.2 C159.2 589.2 156.6 585.4 161.2 593.0 C165.9 600.5 163.8 598.0 168.8 606.8 C173.8 615.7 171.3 612.3 176.4 619.4 C181.4 626.6 178.9 622.8 183.9 628.3 C189.0 633.7 186.4 631.2 191.5 635.8 C196.5 640.4 194.0 638.6 199.0 642.1 C204.1 645.6 201.6 644.3 206.6 646.4 C211.6 648.5 210.0 647.6 214.2 648.4 C218.4 649.3 215.0 649.3 219.2 648.9 C223.4 648.5 220.9 647.5 226.8 647.2 C232.6 646.8 231.8 647.7 236.8 647.9 C241.9 648.2 236.8 649.0 241.9 647.9 C246.9 646.8 246.1 646.4 252.0 644.6 C257.8 642.9 254.5 643.2 259.5 642.6 C264.6 642.0 262.5 643.2 267.1 642.9 C271.7 642.5 269.2 641.4 273.4 641.6 C277.6 641.8 275.0 642.4 279.7 643.4 C284.3 644.4 282.6 644.4 287.2 644.6 C291.8 644.9 288.5 645.6 293.5 644.1 C298.6 642.7 297.3 641.0 302.3 640.4 C307.4 639.7 304.4 640.7 308.6 642.1 C312.8 643.5 311.2 643.8 314.9 644.6 C318.7 645.5 316.2 645.7 320.0 644.6 C323.8 643.5 322.1 642.6 326.3 641.4 C330.5 640.1 328.0 641.4 332.6 640.9 C337.2 640.3 335.1 640.6 340.1 639.6 C345.2 638.6 341.9 641.6 347.7 637.8 C353.5 634.1 351.8 633.1 357.6 628.3 C363.4 623.4 359.7 627.0 365.1 623.2 C370.6 619.4 368.1 621.5 373.9 616.9 C379.8 612.3 376.9 614.8 382.8 609.4 C388.6 603.9 385.7 606.0 391.6 600.5 C397.5 595.1 394.1 598.2 400.4 593.0 C406.7 587.8 404.6 588.5 410.5 584.9 C416.3 581.4 413.8 583.5 418.0 582.4 C422.2 581.3 418.9 580.2 423.1 581.7 C427.3 583.1 425.6 582.2 430.6 586.7 C435.7 591.1 433.1 588.7 438.2 595.0 C443.2 601.3 440.7 598.3 445.7 605.6 C450.8 612.9 448.3 609.8 453.3 616.9 C458.3 624.1 456.7 622.2 460.9 627.0 C465.1 631.8 461.7 629.9 465.9 631.3 C470.1 632.7 468.4 630.9 473.5 631.3 C478.5 631.7 476.4 632.9 481.0 632.5 C485.6 632.2 482.7 633.0 487.3 630.3 C491.9 627.6 489.4 628.7 494.9 624.5 C500.3 620.3 497.4 621.9 503.7 617.7 C510.0 613.5 507.1 615.5 513.8 611.9 C520.5 608.3 518.0 609.8 523.8 606.8 C529.7 603.9 526.4 605.8 531.4 603.1 C536.4 600.3 533.9 599.5 539.0 598.5 C544.0 597.5 541.5 599.0 546.5 600.0 C551.6 601.1 549.0 601.0 554.1 601.8 C559.1 602.6 556.6 603.7 561.6 602.6 C566.7 601.5 563.7 600.0 569.2 598.5 C574.7 597.0 573.0 599.5 578.0 598.0 C583.1 596.6 579.7 598.0 584.3 594.2 C588.9 590.5 586.8 591.1 591.9 586.7 C596.9 582.3 594.0 583.7 599.4 581.1 C604.9 578.6 602.8 579.4 608.3 579.1 C613.7 578.9 610.4 578.7 615.8 580.4 C621.3 582.1 618.7 581.2 624.6 584.2 C630.5 587.1 627.6 587.9 633.4 589.2 C639.3 590.5 636.8 589.4 642.3 587.9 C647.7 586.5 644.8 587.2 649.8 584.9 C654.9 582.7 652.8 584.3 657.4 581.1 C662.0 578.0 659.5 578.8 663.7 575.4 C667.9 571.9 665.8 573.2 670.0 570.8 C674.2 568.5 672.1 567.8 676.3 568.3 C680.5 568.8 678.4 568.3 682.6 572.3 C686.8 576.4 684.7 573.5 688.9 580.4 C693.1 587.3 688.9 580.4 695.2 593.0 C701.4 605.6 700.9 606.8 707.6 618.2 C714.2 629.5 710.1 622.4 715.1 627.0 C720.2 631.6 718.5 631.2 722.7 632.0 C726.9 632.9 722.7 634.6 727.7 629.5 C732.8 624.5 731.1 624.5 737.8 616.9 C744.5 609.4 741.6 611.9 747.9 606.8 C754.2 601.8 750.4 607.4 756.7 601.8 C763.0 596.2 760.5 595.0 766.8 590.0 C773.1 584.9 770.1 588.4 775.6 586.7 C781.0 585.0 778.5 586.2 783.1 584.9 C787.8 583.7 785.2 583.2 789.4 582.9 C793.6 582.7 791.1 582.7 795.7 584.2 C800.4 585.7 798.3 586.0 803.3 587.4 C808.3 588.9 805.0 587.9 810.9 588.5 C816.7 589.0 814.2 588.5 820.9 589.2 C827.7 589.9 824.3 590.5 831.0 590.5 C837.7 590.5 834.4 589.6 841.1 589.2 C847.8 588.8 845.3 589.8 851.2 589.2 C857.1 588.6 854.1 589.1 858.7 587.4 C863.3 585.8 860.0 584.8 865.0 584.2 C870.1 583.5 868.4 584.0 873.8 585.4 C879.3 586.9 876.4 587.2 881.4 588.5 C886.4 589.7 883.1 587.9 889.0 589.2 C894.8 590.6 893.2 590.8 899.0 592.5 C904.9 594.2 901.6 594.2 906.6 594.2 C911.6 594.2 909.1 593.3 914.2 592.5 C919.2 591.6 917.1 592.4 921.7 591.7 C926.3 591.1 923.8 590.2 928.0 590.5 C932.2 590.7 929.7 590.8 934.3 592.5 C938.9 594.2 936.0 594.3 941.9 595.5 C947.8 596.7 946.1 594.8 952.0 596.0 C957.8 597.3 955.3 597.9 959.5 599.3 C963.7 600.6 959.9 596.9 964.6 600.0 C969.2 603.2 967.9 605.1 973.4 608.6 C978.8 612.1 975.9 607.4 980.9 610.6 C986.0 613.8 983.4 612.7 988.5 618.2 C993.5 623.6 991.0 622.0 996.0 627.0 C1001.1 632.0 999.0 629.9 1003.6 633.3 C1008.2 636.7 1006.1 635.4 1009.9 637.1 C1013.7 638.8 1009.9 635.2 1014.9 638.3 C1020.0 641.4 1019.1 643.2 1025.0 646.4 C1030.9 649.6 1026.7 646.8 1032.6 647.9 C1038.5 649.0 1036.8 648.7 1042.7 649.7 C1048.5 650.7 1045.2 650.1 1050.2 650.9 C1055.2 651.8 1052.6 654.0 1057.6 652.2 C1062.5 650.3 1059.2 650.4 1065.1 645.4 C1071.0 640.4 1068.5 643.6 1075.2 637.1 C1081.9 630.5 1079.4 633.7 1085.3 625.7 C1091.2 617.8 1087.8 622.0 1092.8 613.1 C1097.9 604.3 1095.8 606.0 1100.4 599.3 C1105.0 592.6 1101.7 596.5 1106.7 593.0 C1111.7 589.5 1110.0 590.0 1115.5 588.7 C1121.0 587.4 1118.0 589.2 1123.1 589.2 C1128.1 589.2 1125.6 587.9 1130.6 588.7 C1135.7 589.5 1132.7 590.3 1138.2 591.7 C1143.6 593.2 1141.1 593.4 1147.0 593.0 C1152.9 592.6 1150.4 592.0 1155.8 590.5 C1161.3 589.0 1158.3 590.1 1163.4 588.5 C1168.4 586.8 1165.1 587.3 1170.9 585.4 C1176.8 583.6 1175.1 583.1 1181.0 582.9 C1186.9 582.7 1183.5 582.8 1188.6 584.9 C1193.6 587.0 1191.1 585.0 1196.1 589.2 C1201.2 593.4 1198.7 591.2 1203.7 597.5 C1208.7 603.8 1206.2 602.1 1211.2 608.1 C1216.3 614.2 1214.2 612.3 1218.8 615.7 C1223.4 619.0 1220.9 618.2 1225.1 618.2 C1229.3 618.2 1227.2 617.3 1231.4 615.7 C1235.6 614.0 1233.5 616.1 1237.7 613.1 C1241.9 610.2 1239.4 612.6 1244.0 606.8 C1248.6 601.1 1246.5 602.5 1251.6 596.0 C1256.6 589.5 1254.5 591.4 1259.1 587.4 C1263.7 583.5 1261.6 585.3 1265.4 584.2 C1269.2 583.1 1266.7 585.0 1270.5 584.2 C1274.2 583.3 1273.0 583.5 1276.8 581.7 C1280.5 579.8 1279.1 580.5 1281.8 578.6 C1284.5 576.8 1283.8 576.9 1284.8 576.1" fill="none" stroke="#f0dc38" stroke-width="1.1" stroke-linejoin="round"/>
</g>
<text x="1374.9" y="530.3" textLength="36.4" lengthAdjust="spacingAndGlyphs" font-size="10.8" fill="#c9ccd4">126.000</text>
<text x="1374.9" y="499.3" textLength="36.4" lengthAdjust="spacingAndGlyphs" font-size="10.8" fill="#c9ccd4">128.000</text>
<text x="1374.9" y="467.3" textLength="36.4" lengthAdjust="spacingAndGlyphs" font-size="10.8" fill="#c9ccd4">130.000</text>
<text x="1374.9" y="435.3" textLength="36.4" lengthAdjust="spacingAndGlyphs" font-size="10.8" fill="#c9ccd4">132.000</text>
<text x="1374.9" y="403.3" textLength="36.4" lengthAdjust="spacingAndGlyphs" font-size="10.8" fill="#c9ccd4">134.000</text>
<text x="1374.9" y="371.3" textLength="36.4" lengthAdjust="spacingAndGlyphs" font-size="10.8" fill="#c9ccd4">136.000</text>
<text x="1374.9" y="339.3" textLength="36.4" lengthAdjust="spacingAndGlyphs" font-size="10.8" fill="#c9ccd4">138.000</text>
<text x="1374.9" y="307.3" textLength="36.4" lengthAdjust="spacingAndGlyphs" font-size="10.8" fill="#c9ccd4">140.000</text>
<text x="1374.9" y="275.3" textLength="36.4" lengthAdjust="spacingAndGlyphs" font-size="10.8" fill="#c9ccd4">142.000</text>
<text x="1374.9" y="243.3" textLength="36.4" lengthAdjust="spacingAndGlyphs" font-size="10.8" fill="#c9ccd4">144.000</text>
<text x="1374.9" y="211.3" textLength="36.4" lengthAdjust="spacingAndGlyphs" font-size="10.8" fill="#c9ccd4">146.000</text>
<text x="1374.9" y="179.3" textLength="36.4" lengthAdjust="spacingAndGlyphs" font-size="10.8" fill="#c9ccd4">148.000</text>
<text x="1374.9" y="147.3" textLength="36.4" lengthAdjust="spacingAndGlyphs" font-size="10.8" fill="#c9ccd4">150.000</text>
<text x="1374.9" y="115.3" textLength="36.4" lengthAdjust="spacingAndGlyphs" font-size="10.8" fill="#c9ccd4">152.000</text>
<text x="1374.9" y="83.3" textLength="36.4" lengthAdjust="spacingAndGlyphs" font-size="10.8" fill="#c9ccd4">154.000</text>
<text x="1374.9" y="51.3" textLength="36.4" lengthAdjust="spacingAndGlyphs" font-size="10.8" fill="#c9ccd4">156.000</text>
<text x="1375.0" y="552.3" textLength="25.2" lengthAdjust="spacingAndGlyphs" font-size="10.8" fill="#c9ccd4">80.00</text>
<text x="1375.0" y="597.3" textLength="25.2" lengthAdjust="spacingAndGlyphs" font-size="10.8" fill="#c9ccd4">60.00</text>
<text x="1375.0" y="642.3" textLength="25.2" lengthAdjust="spacingAndGlyphs" font-size="10.8" fill="#c9ccd4">40.00</text>
<rect x="1367" y="68" width="50" height="15.8" rx="2" fill="#ef5350"/>
<text x="1375.2" y="79.9" textLength="36.1" lengthAdjust="spacingAndGlyphs" font-size="10.8" fill="#ffffff" stroke="#ffffff" stroke-width="0.35">154.182</text>
<text x="13.4" y="700.0" textLength="16.6" lengthAdjust="spacingAndGlyphs" font-size="10.8" fill="#c9ccd4">Sep</text>
<text x="140.9" y="700.0" textLength="17.6" lengthAdjust="spacingAndGlyphs" font-size="10.8" fill="#c9ccd4">Nov</text>
<text x="269.7" y="700.0" textLength="24.0" lengthAdjust="spacingAndGlyphs" font-size="10.8" fill="#c9ccd4" font-weight="bold">2023</text>
<text x="398.3" y="700.0" textLength="16.7" lengthAdjust="spacingAndGlyphs" font-size="10.8" fill="#c9ccd4">Mar</text>
<text x="525.7" y="700.0" textLength="18.0" lengthAdjust="spacingAndGlyphs" font-size="10.8" fill="#c9ccd4">May</text>
<text x="663.0" y="700.0" textLength="13.4" lengthAdjust="spacingAndGlyphs" font-size="10.8" fill="#c9ccd4">Jul</text>
<text x="792.4" y="700.0" textLength="16.6" lengthAdjust="spacingAndGlyphs" font-size="10.8" fill="#c9ccd4">Sep</text>
<text x="920.9" y="700.0" textLength="17.6" lengthAdjust="spacingAndGlyphs" font-size="10.8" fill="#c9ccd4">Nov</text>
<text x="1046.7" y="700.0" textLength="24.0" lengthAdjust="spacingAndGlyphs" font-size="10.8" fill="#c9ccd4" font-weight="bold">2024</text>
<text x="1182.4" y="700.0" textLength="16.7" lengthAdjust="spacingAndGlyphs" font-size="10.8" fill="#c9ccd4">Mar</text>
<text x="1309.7" y="700.0" textLength="18.0" lengthAdjust="spacingAndGlyphs" font-size="10.8" fill="#c9ccd4">May</text>
<text x="9.2" y="17.3" textLength="328.4" lengthAdjust="spacingAndGlyphs" font-size="11.5" fill="#d1d4dc" stroke="#d1d4dc" stroke-width="0.45">dacolmanfx published on TradingView.com, Apr 15, 2024 19:10 UTC-4</text>
<text x="15.8" y="40.9" textLength="166.6" lengthAdjust="spacingAndGlyphs" font-size="11" fill="#c9ccd4">U.S. Dollar / Japanese Yen, 1D, ICE</text>
<text x="189.8" y="40.9" textLength="6.7" lengthAdjust="spacingAndGlyphs" font-size="11" fill="#c9ccd4">O</text>
<text x="198.2" y="40.9" textLength="35.2" lengthAdjust="spacingAndGlyphs" font-size="11" fill="#ef5350">154.224</text>
<text x="240.2" y="40.9" textLength="6.7" lengthAdjust="spacingAndGlyphs" font-size="11" fill="#c9ccd4">H</text>
<text x="247.9" y="40.9" textLength="35.9" lengthAdjust="spacingAndGlyphs" font-size="11" fill="#ef5350">154.227</text>
<text x="290.9" y="40.9" textLength="4.7" lengthAdjust="spacingAndGlyphs" font-size="11" fill="#c9ccd4">L</text>
<text x="296.6" y="40.9" textLength="35.9" lengthAdjust="spacingAndGlyphs" font-size="11" fill="#ef5350">154.148</text>
<text x="339.3" y="40.9" textLength="6.0" lengthAdjust="spacingAndGlyphs" font-size="11" fill="#c9ccd4">C</text>
<text x="346.0" y="40.9" textLength="36.3" lengthAdjust="spacingAndGlyphs" font-size="11" fill="#ef5350">154.182</text>
<text x="389.7" y="40.9" textLength="30.2" lengthAdjust="spacingAndGlyphs" font-size="11" fill="#ef5350">−0.042</text>
<text x="424.9" y="40.9" textLength="38.7" lengthAdjust="spacingAndGlyphs" font-size="11" fill="#ef5350">(−0.03%)</text>
<text x="29.5" y="727.5" textLength="61.6" lengthAdjust="spacingAndGlyphs" font-size="11.5" fill="#d5d8e0" font-weight="bold">TradingView</text>
<g fill="#d5d8e0"><path d="M9.1 718.6H16V726.9H11.9V722H9.1Z"/><circle cx="18.6" cy="720.2" r="1.35"/><path d="M22 718.6H26L22.7 726.9H18.6Z"/></g>
<g fill="#0a0c12" opacity="0.4" transform="translate(1.1,1.1)"><path d="M1195.9 646.6 L1203.9 646.6 L1203.0 655.2 L1208.0 655.2 L1206.8 660.4 L1194.2 660.4Z" fill-rule="nonzero"/>
<path d="M1192.1 662.3 L1199.4 662.3 L1198.2 671.3 L1202.6 673.9 L1201.0 679.3 L1189.5 679.3Z" fill-rule="nonzero"/>
<path d="M1190.6 681.7 L1199.6 681.7 L1194.2 699.2 L1185.2 699.2Z" fill-rule="nonzero"/>
<path d="M1217.0 646.2 L1226.4 646.2 L1225.7 649.5 L1216.2 649.5Z" fill-rule="nonzero"/>
<path d="M1208.4 649.2 L1245.9 649.2 L1244.2 655.6 L1206.8 655.6Z" fill-rule="nonzero"/>
<path d="M1206.8 655.6 L1217.9 655.6 L1216.8 660.4 L1243.3 660.4 L1239.5 674.6 L1241.6 674.6 L1240.2 682.6 L1237.3 682.6 L1234.5 693.1 L1228.8 699.2 L1197.5 699.2 L1202.7 682.6 L1199.4 682.6 L1201.6 674.6 L1204.8 674.6Z M1213.4 667.5 L1217.1 667.5 L1221.7 674.6 L1211.6 674.6Z M1220.9 665.6 L1232.3 665.6 L1230.0 674.6 L1226.6 674.6Z M1209.6 682.6 L1213.2 682.6 L1217.9 692.1 L1207.2 692.1Z M1217.1 682.6 L1227.7 682.6 L1225.3 692.1 L1221.7 692.1Z" fill-rule="evenodd"/>
<path d="M1255.8 646.6 L1304.9 646.6 L1291.8 700.2 L1268.1 700.2 L1269.8 694.0 L1284.7 694.0 L1289.9 675.1 L1249.0 675.1 L1253.9 653.3Z M1262.2 653.3 L1295.1 653.3 L1290.4 668.4 L1257.9 668.4Z" fill-rule="evenodd"/>
<path d="M1246.0 683.1 L1285.4 683.1 L1283.5 689.7 L1244.1 689.7Z" fill-rule="nonzero"/>
<path d="M1313.6 647.4 L1340.0 647.4 L1329.6 685.3 L1321.8 685.3 L1330.1 655.9 L1318.4 655.9 L1311.0 685.3 L1303.7 685.3Z" fill-rule="nonzero"/>
<path d="M1321.0 660.6 L1327.5 660.6 L1321.8 681.0 L1309.7 699.6 L1300.2 699.6 L1314.5 681.0Z" fill-rule="nonzero"/>
<path d="M1317.1 681.0 L1322.0 680.1 L1324.9 690.5 L1327.2 699.6 L1320.3 699.6Z" fill-rule="nonzero"/>
<path d="M1339.6 650.7 L1367.7 650.7 L1365.6 659.3 L1337.4 659.3Z" fill-rule="nonzero"/>
<path d="M1357.8 647.4 L1366.9 647.4 L1355.6 690.5 L1350.4 699.6 L1340.9 699.6 L1343.5 693.9 L1346.1 690.5Z" fill-rule="nonzero"/>
<path d="M1345.6 659.3 L1354.7 659.3 L1338.3 697.4 L1328.3 697.4Z" fill-rule="nonzero"/>
<path d="M1384.0 647.0 L1392.3 647.0 L1378.0 668.0 L1369.7 668.0Z" fill-rule="nonzero"/>
<path d="M1371.0 663.2 L1393.6 663.2 L1392.3 668.0 L1369.7 668.0Z" fill-rule="nonzero"/>
<path d="M1385.8 658.9 L1394.4 658.9 L1393.1 663.7 L1377.1 680.1 L1366.7 680.1 L1383.6 663.2Z" fill-rule="nonzero"/>
<path d="M1366.7 680.1 L1386.2 680.1 L1384.9 686.6 L1365.0 686.6Z" fill-rule="nonzero"/>
<path d="M1362.8 693.1 L1383.2 693.1 L1381.4 699.6 L1361.1 699.6Z" fill-rule="nonzero"/>
<path d="M1397.9 647.0 L1426.9 647.0 L1425.2 653.7 L1396.2 653.7Z" fill-rule="nonzero"/>
<path d="M1415.7 653.7 L1425.6 653.7 L1402.2 673.2 L1391.0 673.2 L1392.4 668.0 L1398.8 668.0Z" fill-rule="nonzero"/>
<path d="M1410.5 659.3 L1414.8 656.3 L1420.9 667.1 L1422.2 667.1 L1420.4 673.2 L1412.2 673.2 L1407.9 664.5Z" fill-rule="nonzero"/>
<path d="M1389.7 676.2 L1419.6 676.2 L1417.8 682.7 L1387.9 682.7Z" fill-rule="nonzero"/>
<path d="M1397.9 682.7 L1407.9 682.7 L1405.3 693.1 L1395.3 693.1Z" fill-rule="nonzero"/>
<path d="M1384.9 693.1 L1414.8 693.1 L1412.9 699.6 L1383.2 699.6Z" fill-rule="nonzero"/></g>
<g fill="#d0d3e1" opacity="0.68"><path d="M1195.9 646.6 L1203.9 646.6 L1203.0 655.2 L1208.0 655.2 L1206.8 660.4 L1194.2 660.4Z" fill-rule="nonzero"/>
<path d="M1192.1 662.3 L1199.4 662.3 L1198.2 671.3 L1202.6 673.9 L1201.0 679.3 L1189.5 679.3Z" fill-rule="nonzero"/>
<path d="M1190.6 681.7 L1199.6 681.7 L1194.2 699.2 L1185.2 699.2Z" fill-rule="nonzero"/>
<path d="M1217.0 646.2 L1226.4 646.2 L1225.7 649.5 L1216.2 649.5Z" fill-rule="nonzero"/>
<path d="M1208.4 649.2 L1245.9 649.2 L1244.2 655.6 L1206.8 655.6Z" fill-rule="nonzero"/>
<path d="M1206.8 655.6 L1217.9 655.6 L1216.8 660.4 L1243.3 660.4 L1239.5 674.6 L1241.6 674.6 L1240.2 682.6 L1237.3 682.6 L1234.5 693.1 L1228.8 699.2 L1197.5 699.2 L1202.7 682.6 L1199.4 682.6 L1201.6 674.6 L1204.8 674.6Z M1213.4 667.5 L1217.1 667.5 L1221.7 674.6 L1211.6 674.6Z M1220.9 665.6 L1232.3 665.6 L1230.0 674.6 L1226.6 674.6Z M1209.6 682.6 L1213.2 682.6 L1217.9 692.1 L1207.2 692.1Z M1217.1 682.6 L1227.7 682.6 L1225.3 692.1 L1221.7 692.1Z" fill-rule="evenodd"/>
<path d="M1255.8 646.6 L1304.9 646.6 L1291.8 700.2 L1268.1 700.2 L1269.8 694.0 L1284.7 694.0 L1289.9 675.1 L1249.0 675.1 L1253.9 653.3Z M1262.2 653.3 L1295.1 653.3 L1290.4 668.4 L1257.9 668.4Z" fill-rule="evenodd"/>
<path d="M1246.0 683.1 L1285.4 683.1 L1283.5 689.7 L1244.1 689.7Z" fill-rule="nonzero"/>
<path d="M1313.6 647.4 L1340.0 647.4 L1329.6 685.3 L1321.8 685.3 L1330.1 655.9 L1318.4 655.9 L1311.0 685.3 L1303.7 685.3Z" fill-rule="nonzero"/>
<path d="M1321.0 660.6 L1327.5 660.6 L1321.8 681.0 L1309.7 699.6 L1300.2 699.6 L1314.5 681.0Z" fill-rule="nonzero"/>
<path d="M1317.1 681.0 L1322.0 680.1 L1324.9 690.5 L1327.2 699.6 L1320.3 699.6Z" fill-rule="nonzero"/>
<path d="M1339.6 650.7 L1367.7 650.7 L1365.6 659.3 L1337.4 659.3Z" fill-rule="nonzero"/>
<path d="M1357.8 647.4 L1366.9 647.4 L1355.6 690.5 L1350.4 699.6 L1340.9 699.6 L1343.5 693.9 L1346.1 690.5Z" fill-rule="nonzero"/>
<path d="M1345.6 659.3 L1354.7 659.3 L1338.3 697.4 L1328.3 697.4Z" fill-rule="nonzero"/>
<path d="M1384.0 647.0 L1392.3 647.0 L1378.0 668.0 L1369.7 668.0Z" fill-rule="nonzero"/>
<path d="M1371.0 663.2 L1393.6 663.2 L1392.3 668.0 L1369.7 668.0Z" fill-rule="nonzero"/>
<path d="M1385.8 658.9 L1394.4 658.9 L1393.1 663.7 L1377.1 680.1 L1366.7 680.1 L1383.6 663.2Z" fill-rule="nonzero"/>
<path d="M1366.7 680.1 L1386.2 680.1 L1384.9 686.6 L1365.0 686.6Z" fill-rule="nonzero"/>
<path d="M1362.8 693.1 L1383.2 693.1 L1381.4 699.6 L1361.1 699.6Z" fill-rule="nonzero"/>
<path d="M1397.9 647.0 L1426.9 647.0 L1425.2 653.7 L1396.2 653.7Z" fill-rule="nonzero"/>
<path d="M1415.7 653.7 L1425.6 653.7 L1402.2 673.2 L1391.0 673.2 L1392.4 668.0 L1398.8 668.0Z" fill-rule="nonzero"/>
<path d="M1410.5 659.3 L1414.8 656.3 L1420.9 667.1 L1422.2 667.1 L1420.4 673.2 L1412.2 673.2 L1407.9 664.5Z" fill-rule="nonzero"/>
<path d="M1389.7 676.2 L1419.6 676.2 L1417.8 682.7 L1387.9 682.7Z" fill-rule="nonzero"/>
<path d="M1397.9 682.7 L1407.9 682.7 L1405.3 693.1 L1395.3 693.1Z" fill-rule="nonzero"/>
<path d="M1384.9 693.1 L1414.8 693.1 L1412.9 699.6 L1383.2 699.6Z" fill-rule="nonzero"/></g>
<text x="1196.6" y="734.4" textLength="222" lengthAdjust="spacing" font-size="32" font-weight="bold" font-style="italic" fill="#122f6b" stroke="#122f6b" stroke-width="1.1" stroke-linejoin="round" opacity="0.7">zzrt01.cn</text>
<text x="1195.4" y="733.3" textLength="222" lengthAdjust="spacing" font-size="32" font-weight="bold" font-style="italic" fill="#2270a6" stroke="#2270a6" stroke-width="1.1" stroke-linejoin="round">zzrt01.cn</text>
</svg>
</body></html>
